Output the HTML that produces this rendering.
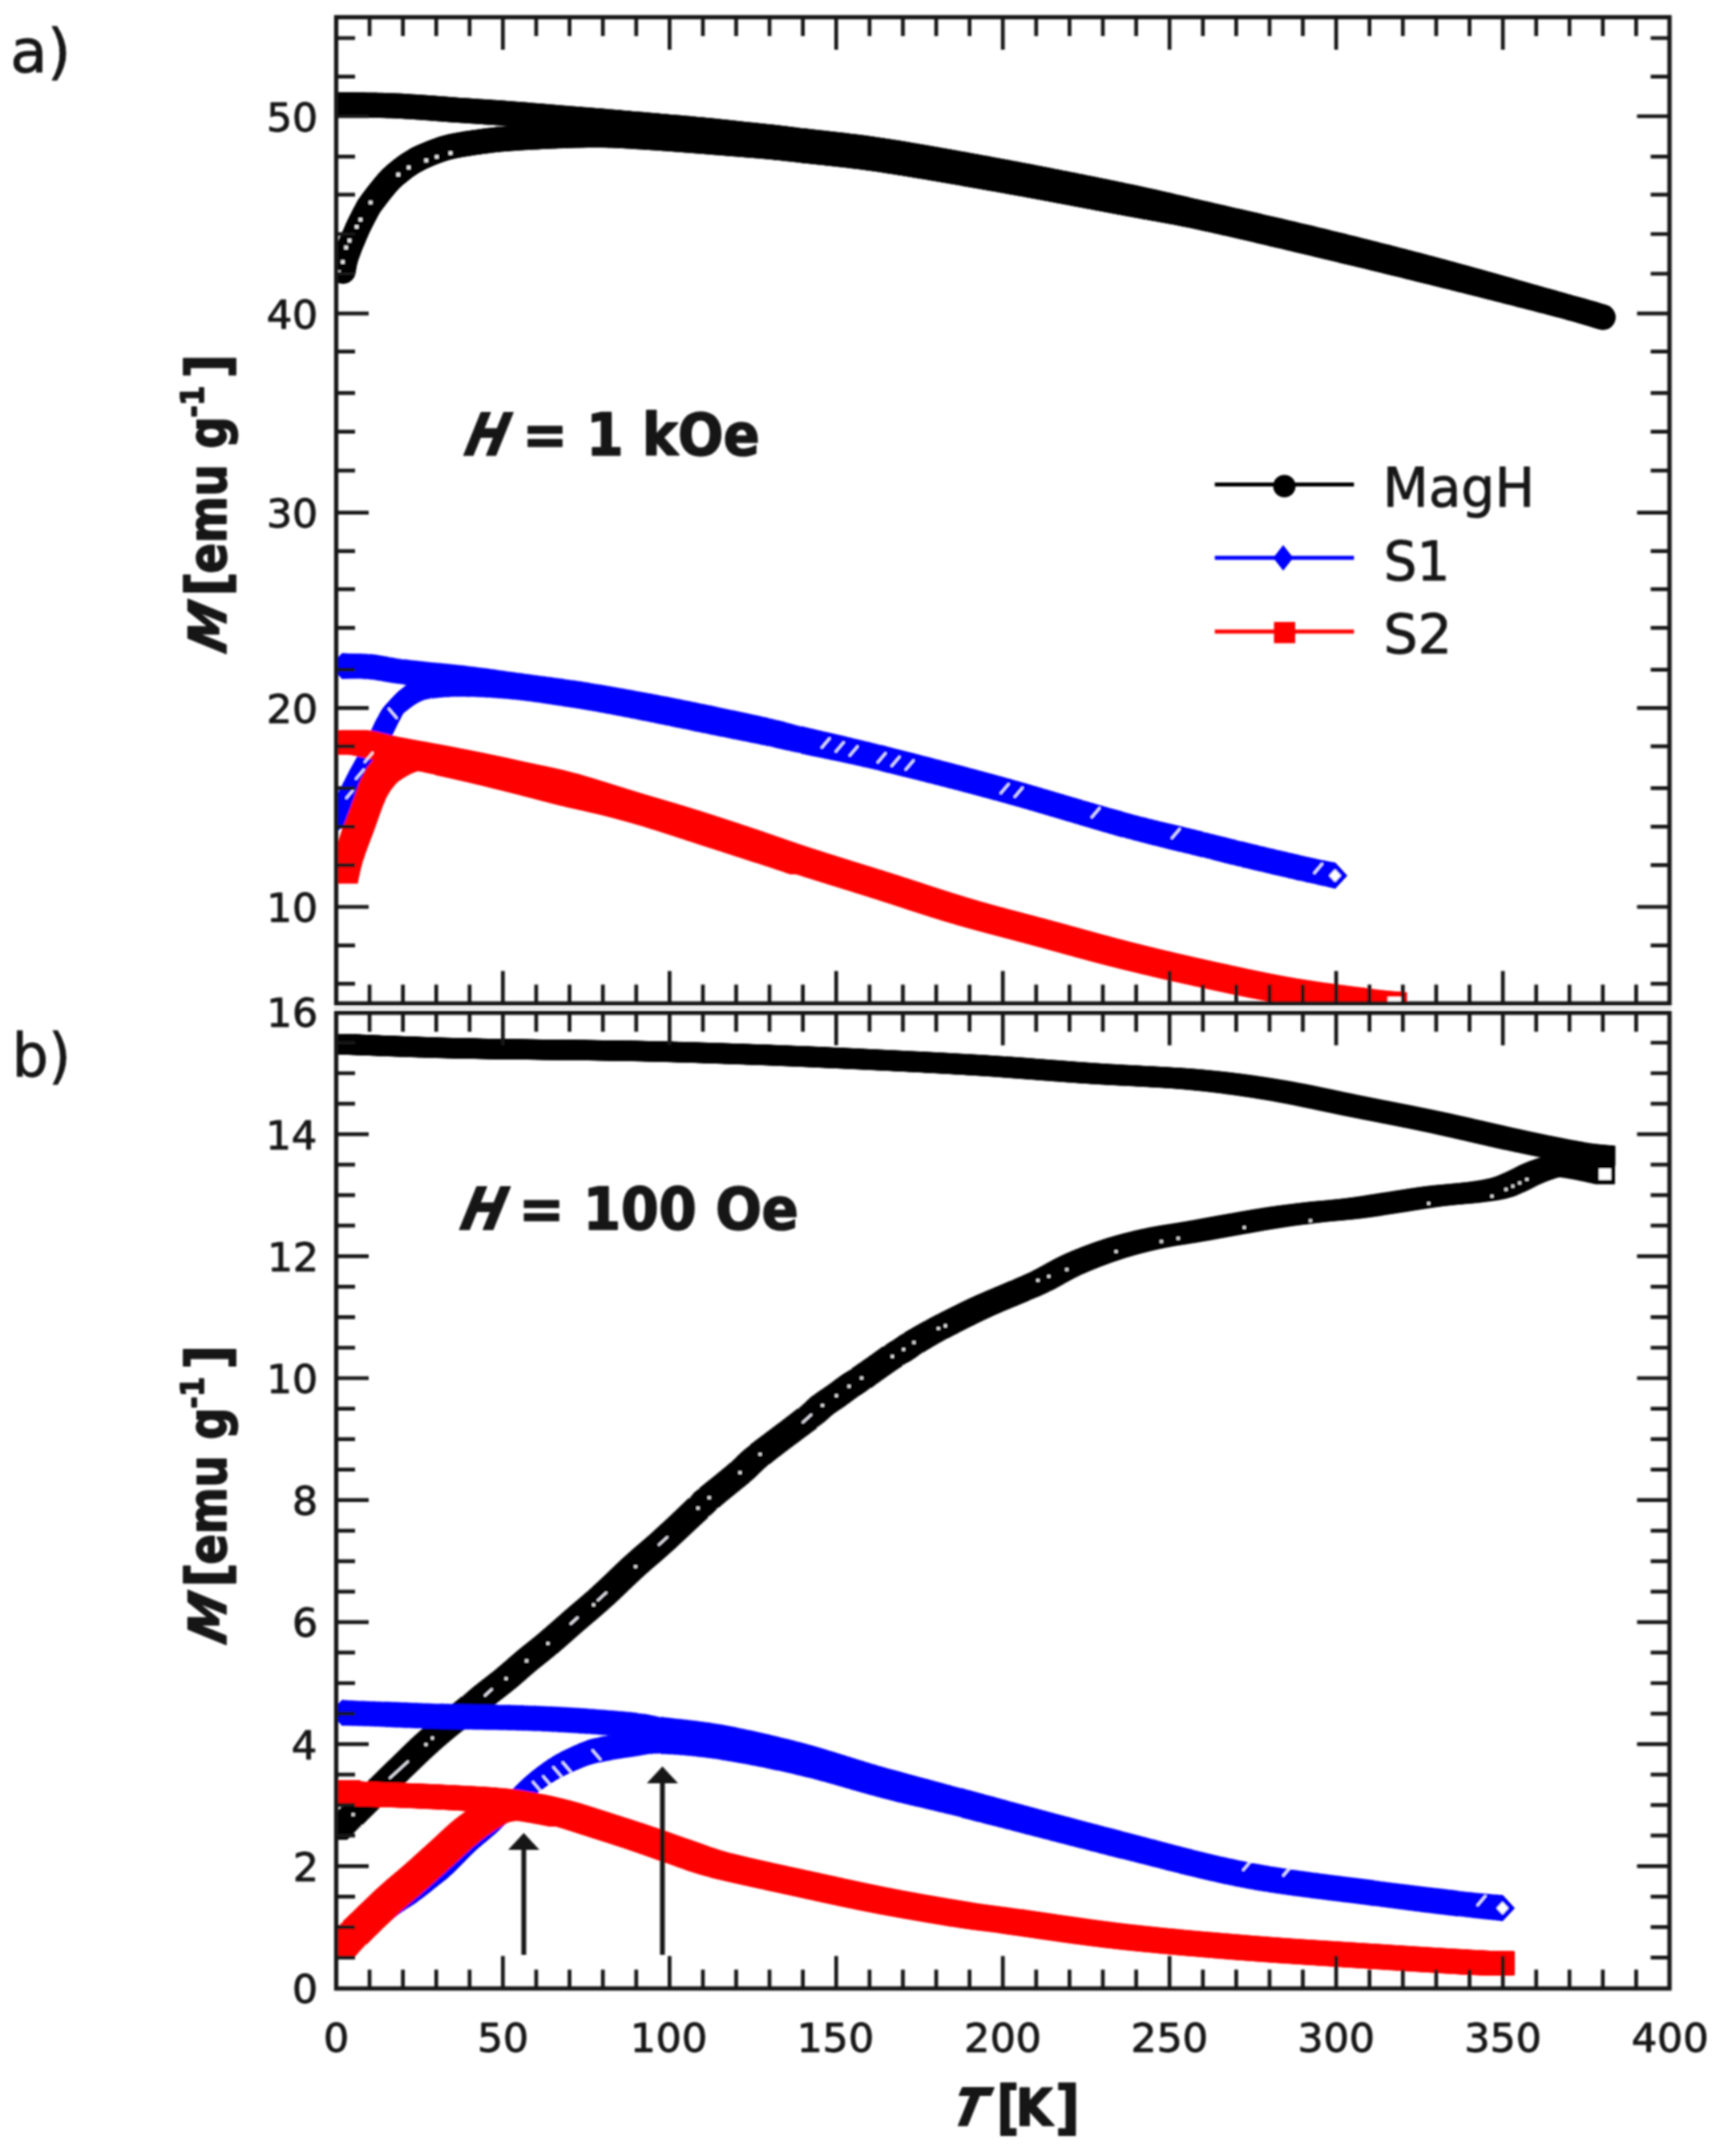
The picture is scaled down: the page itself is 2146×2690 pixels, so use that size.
<!DOCTYPE html><html><head><meta charset="utf-8"><title>M(T)</title><style>html,body{margin:0;padding:0;background:#fff}svg{display:block}</style></head><body><svg width="2146" height="2690" viewBox="0 0 2146 2690">
<defs>
<marker id="mc" markerUnits="userSpaceOnUse" markerWidth="40" markerHeight="40" refX="20" refY="20" overflow="visible"><circle cx="20" cy="20" r="15.7" fill="#000"/></marker>
<marker id="md" markerUnits="userSpaceOnUse" markerWidth="40" markerHeight="40" refX="20" refY="20" overflow="visible"><path d="M20 3.6 L35.2 20 L20 36.4 L4.8 20Z" fill="#0000ff"/></marker>
<marker id="ms" markerUnits="userSpaceOnUse" markerWidth="40" markerHeight="40" refX="20" refY="20" overflow="visible"><rect x="5" y="5" width="30" height="30" fill="#ff0000"/></marker>
<marker id="msb" markerUnits="userSpaceOnUse" markerWidth="40" markerHeight="40" refX="20" refY="20" overflow="visible"><rect x="7.5" y="7.5" width="25" height="25" fill="#000"/></marker>
<filter id="soft" filterUnits="userSpaceOnUse" x="0" y="0" width="2146" height="2690"><feGaussianBlur stdDeviation="0.9"/></filter>
<clipPath id="ca"><rect x="418.5" y="21.5" width="1664.5" height="1230.5"/></clipPath>
<clipPath id="cb"><rect x="418.5" y="1263.7" width="1664.5" height="1217.3"/></clipPath>
</defs>
<rect width="2146" height="2690" fill="#fff"/>
<g filter="url(#soft)">
<g clip-path="url(#ca)">
<polyline points="421.0,130.6 422.2,130.6 423.5,130.6 424.9,130.7 426.4,130.7 428.0,130.7 429.8,130.7 431.6,130.8 433.5,130.8 435.5,130.8 437.6,130.8 439.8,130.8 442.0,130.9 444.3,130.9 446.6,130.9 449.0,131.0 451.5,131.0 453.9,131.0 456.4,131.1 459.0,131.1 461.5,131.2 464.1,131.2 466.7,131.3 469.2,131.3 471.8,131.4 474.4,131.4 477.0,131.5 479.5,131.6 482.0,131.7 484.5,131.7 486.9,131.8 489.3,131.9 491.7,132.0 494.0,132.1 496.2,132.2 498.3,132.3 500.5,132.4 502.7,132.5 504.9,132.7 507.1,132.8 509.3,132.9 511.5,133.1 513.8,133.2 516.0,133.4 518.3,133.5 520.5,133.7 522.8,133.8 525.0,134.0 527.3,134.1 529.6,134.3 531.8,134.5 534.1,134.6 536.3,134.8 538.6,135.0 540.8,135.2 543.0,135.3 545.3,135.5 547.5,135.7 549.7,135.8 551.9,136.0 554.1,136.2 556.2,136.3 558.4,136.5 560.5,136.7 562.7,136.8 564.8,137.0 566.9,137.1 568.9,137.3 571.0,137.4 573.4,137.6 575.7,137.7 578.1,137.9 580.4,138.0 582.7,138.2 585.0,138.3 587.3,138.5 589.6,138.6 591.8,138.8 594.1,138.9 596.3,139.1 598.5,139.2 600.7,139.4 602.9,139.5 605.1,139.7 607.3,139.8 609.4,140.0 611.6,140.1 613.7,140.3 615.9,140.4 618.0,140.5 620.2,140.7 622.3,140.8 624.4,141.0 626.5,141.1 628.6,141.3 630.7,141.4 632.8,141.6 634.9,141.7 637.0,141.9 639.3,142.1 641.6,142.3 643.9,142.4 646.2,142.6 648.5,142.8 650.7,143.0 653.0,143.2 655.2,143.3 657.5,143.5 659.7,143.7 661.9,143.9 664.1,144.1 666.3,144.3 668.5,144.4 670.7,144.6 672.9,144.8 675.0,145.0 677.2,145.2 679.4,145.4 681.5,145.5 683.7,145.7 685.8,145.9 688.0,146.1 690.1,146.3 692.2,146.4 694.4,146.6 696.5,146.8 698.8,147.0 701.1,147.2 703.4,147.4 705.7,147.5 708.0,147.7 710.2,147.9 712.5,148.1 714.8,148.3 717.0,148.5 719.3,148.6 721.5,148.8 723.8,149.0 726.0,149.2 728.2,149.4 730.5,149.5 732.7,149.7 734.9,149.9 737.0,150.1 739.2,150.2 741.4,150.4 743.5,150.6 745.7,150.8 747.8,151.0 749.9,151.1 752.0,151.3 754.4,151.5 756.7,151.7 759.0,151.9 761.3,152.1 763.6,152.3 765.8,152.5 768.1,152.7 770.3,152.8 772.5,153.0 774.7,153.2 776.9,153.4 779.1,153.6 781.3,153.8 783.5,154.0 785.6,154.2 787.8,154.4 790.0,154.6 792.2,154.7 794.4,154.9 796.6,155.1 798.8,155.3 801.0,155.5 803.2,155.7 805.5,155.9 807.7,156.1 810.0,156.3 812.2,156.5 814.5,156.6 816.7,156.8 819.0,157.0 821.2,157.2 823.5,157.4 825.8,157.6 828.0,157.8 830.2,158.0 832.5,158.2 834.7,158.4 836.9,158.6 839.1,158.7 841.3,158.9 843.5,159.1 845.7,159.3 847.9,159.5 850.0,159.7 852.3,159.9 854.7,160.1 857.0,160.3 859.4,160.5 861.7,160.8 864.0,161.0 866.3,161.2 868.6,161.4 870.9,161.6 873.1,161.8 875.4,162.0 877.6,162.2 879.9,162.4 882.1,162.6 884.3,162.8 886.4,163.1 888.6,163.3 890.8,163.5 892.9,163.7 895.0,163.9 897.5,164.1 899.9,164.4 902.3,164.6 904.6,164.9 906.9,165.1 909.2,165.4 911.5,165.6 913.8,165.9 916.1,166.1 918.3,166.4 920.6,166.6 922.8,166.9 925.0,167.1 927.3,167.4 929.5,167.6 931.7,167.9 934.0,168.1 936.3,168.3 938.6,168.6 940.9,168.8 943.2,169.1 945.6,169.3 947.9,169.6 950.2,169.8 952.5,170.1 954.8,170.3 957.1,170.6 959.4,170.8 961.6,171.0 963.8,171.3 965.9,171.5 968.0,171.8 970.0,172.0 972.0,172.2 974.5,172.5 976.4,172.7 978.0,172.9 979.4,173.1 980.7,173.2 982.1,173.4 983.7,173.6 985.7,173.8 988.2,174.1 991.3,174.5 995.2,175.0 1000.0,175.6 1001.4,175.8 1002.9,176.0 1004.5,176.1 1006.1,176.3 1007.7,176.5 1009.3,176.7 1011.1,176.9 1012.8,177.1 1014.6,177.3 1016.4,177.5 1018.3,177.7 1020.2,177.9 1022.1,178.1 1024.1,178.3 1026.1,178.5 1028.2,178.7 1030.3,178.9 1032.4,179.2 1034.6,179.4 1036.8,179.7 1039.0,179.9 1041.2,180.1 1043.5,180.4 1045.8,180.7 1048.2,180.9 1050.5,181.2 1052.9,181.5 1055.4,181.8 1057.8,182.1 1060.3,182.4 1062.8,182.7 1065.3,183.0 1067.9,183.3 1070.4,183.6 1073.0,184.0 1075.6,184.3 1078.3,184.7 1080.9,185.0 1083.6,185.4 1086.3,185.8 1089.0,186.2 1091.7,186.6 1094.5,187.0 1097.2,187.4 1100.0,187.8 1101.8,188.1 1103.7,188.4 1105.5,188.7 1107.4,189.0 1109.3,189.3 1111.2,189.6 1113.2,189.9 1115.1,190.2 1117.1,190.5 1119.1,190.8 1121.1,191.2 1123.1,191.5 1125.2,191.8 1127.2,192.2 1129.3,192.5 1131.4,192.8 1133.5,193.2 1135.6,193.6 1137.7,193.9 1139.8,194.3 1142.0,194.6 1144.1,195.0 1146.3,195.4 1148.5,195.7 1150.7,196.1 1152.9,196.5 1155.1,196.9 1157.3,197.3 1159.5,197.6 1161.7,198.0 1164.0,198.4 1166.2,198.8 1168.5,199.2 1170.7,199.6 1173.0,200.0 1175.3,200.4 1177.6,200.8 1179.8,201.2 1182.1,201.6 1184.4,202.0 1186.7,202.4 1189.0,202.8 1191.3,203.3 1193.6,203.7 1195.9,204.1 1198.1,204.5 1200.4,204.9 1202.7,205.3 1205.0,205.7 1207.3,206.2 1209.6,206.6 1211.9,207.0 1214.2,207.4 1216.5,207.8 1218.7,208.2 1221.0,208.7 1223.3,209.1 1225.6,209.5 1227.8,209.9 1230.1,210.3 1232.3,210.7 1234.6,211.1 1236.8,211.6 1239.0,212.0 1241.2,212.4 1243.4,212.8 1245.6,213.2 1247.8,213.6 1250.0,214.0 1252.2,214.4 1254.4,214.8 1256.6,215.2 1258.8,215.6 1261.0,216.1 1263.2,216.5 1265.4,216.9 1267.7,217.3 1269.9,217.7 1272.2,218.2 1274.4,218.6 1276.7,219.0 1279.0,219.5 1281.3,219.9 1283.5,220.3 1285.8,220.8 1288.1,221.2 1290.4,221.7 1292.7,222.1 1295.0,222.5 1297.3,223.0 1299.6,223.4 1301.9,223.9 1304.1,224.3 1306.4,224.8 1308.7,225.2 1311.0,225.7 1313.3,226.1 1315.6,226.6 1317.9,227.0 1320.2,227.5 1322.4,227.9 1324.7,228.4 1327.0,228.8 1329.3,229.3 1331.5,229.7 1333.8,230.1 1336.0,230.6 1338.3,231.0 1340.5,231.5 1342.7,231.9 1344.9,232.4 1347.1,232.8 1349.3,233.3 1351.5,233.7 1353.7,234.1 1355.9,234.6 1358.0,235.0 1360.2,235.4 1362.3,235.9 1364.4,236.3 1366.5,236.7 1368.6,237.2 1370.7,237.6 1372.8,238.0 1374.8,238.4 1376.9,238.8 1378.9,239.2 1380.9,239.7 1382.9,240.1 1384.9,240.5 1386.8,240.9 1388.8,241.3 1390.7,241.7 1392.6,242.1 1394.5,242.5 1396.3,242.8 1398.2,243.2 1400.0,243.6 1402.7,244.2 1405.3,244.7 1407.8,245.2 1410.3,245.8 1412.8,246.3 1415.1,246.8 1417.5,247.3 1419.7,247.8 1422.0,248.3 1424.1,248.7 1426.3,249.2 1428.4,249.7 1430.5,250.1 1432.5,250.6 1434.5,251.0 1436.5,251.5 1438.5,251.9 1440.4,252.3 1442.4,252.8 1444.3,253.2 1446.2,253.6 1448.1,254.1 1450.0,254.5 1451.9,255.0 1453.8,255.4 1455.7,255.8 1457.6,256.3 1459.6,256.7 1461.5,257.2 1463.5,257.6 1465.5,258.1 1467.5,258.6 1469.5,259.0 1471.6,259.5 1473.7,260.0 1475.9,260.5 1478.0,261.0 1480.3,261.5 1482.5,262.1 1484.9,262.6 1487.2,263.2 1489.7,263.7 1492.2,264.3 1494.7,264.9 1497.3,265.5 1500.0,266.1 1501.8,266.5 1503.6,266.9 1505.4,267.3 1507.3,267.8 1509.2,268.2 1511.1,268.6 1513.0,269.1 1514.9,269.5 1516.8,270.0 1518.8,270.4 1520.8,270.9 1522.8,271.3 1524.8,271.8 1526.8,272.2 1528.8,272.7 1530.9,273.2 1532.9,273.6 1535.0,274.1 1537.1,274.6 1539.2,275.1 1541.3,275.6 1543.4,276.0 1545.6,276.5 1547.7,277.0 1549.9,277.5 1552.0,278.0 1554.2,278.5 1556.4,279.0 1558.6,279.5 1560.8,280.0 1563.0,280.5 1565.2,281.0 1567.4,281.5 1569.6,282.0 1571.9,282.6 1574.1,283.1 1576.3,283.6 1578.6,284.1 1580.8,284.6 1583.1,285.2 1585.3,285.7 1587.6,286.2 1589.9,286.7 1592.1,287.3 1594.4,287.8 1596.6,288.3 1598.9,288.8 1601.2,289.4 1603.4,289.9 1605.7,290.4 1607.9,290.9 1610.2,291.5 1612.5,292.0 1614.7,292.5 1617.0,293.1 1619.2,293.6 1621.4,294.1 1623.7,294.7 1625.9,295.2 1628.1,295.7 1630.4,296.3 1632.6,296.8 1634.8,297.3 1637.0,297.8 1639.2,298.4 1641.4,298.9 1643.5,299.4 1645.7,300.0 1647.9,300.5 1650.0,301.0 1652.1,301.5 1654.3,302.0 1656.4,302.6 1658.6,303.1 1660.7,303.6 1662.9,304.1 1665.0,304.7 1667.1,305.2 1669.3,305.7 1671.4,306.3 1673.6,306.8 1675.7,307.3 1677.9,307.9 1680.0,308.4 1682.1,308.9 1684.3,309.4 1686.4,310.0 1688.6,310.5 1690.7,311.0 1692.9,311.6 1695.0,312.1 1697.1,312.7 1699.3,313.2 1701.4,313.7 1703.6,314.3 1705.7,314.8 1707.9,315.4 1710.0,315.9 1712.1,316.4 1714.3,317.0 1716.4,317.5 1718.6,318.1 1720.7,318.6 1722.9,319.2 1725.0,319.7 1727.1,320.2 1729.3,320.8 1731.4,321.3 1733.6,321.9 1735.7,322.4 1737.9,323.0 1740.0,323.5 1742.1,324.1 1744.3,324.6 1746.4,325.2 1748.6,325.8 1750.7,326.3 1752.9,326.9 1755.0,327.4 1757.1,328.0 1759.3,328.5 1761.4,329.1 1763.6,329.7 1765.7,330.2 1767.9,330.8 1770.0,331.3 1772.1,331.9 1774.3,332.5 1776.4,333.0 1778.6,333.6 1780.7,334.2 1782.9,334.7 1785.0,335.3 1787.1,335.9 1789.3,336.4 1791.4,337.0 1793.6,337.6 1795.7,338.2 1797.9,338.7 1800.0,339.3 1802.2,339.9 1804.3,340.5 1806.5,341.1 1808.7,341.7 1811.0,342.3 1813.2,342.9 1815.5,343.5 1817.7,344.1 1820.0,344.7 1822.3,345.4 1824.6,346.0 1826.9,346.6 1829.3,347.3 1831.6,347.9 1833.9,348.6 1836.3,349.2 1838.7,349.9 1841.0,350.5 1843.4,351.2 1845.8,351.9 1848.2,352.5 1850.5,353.2 1852.9,353.9 1855.3,354.5 1857.7,355.2 1860.1,355.9 1862.4,356.5 1864.8,357.2 1867.2,357.9 1869.5,358.5 1871.9,359.2 1874.2,359.9 1876.6,360.5 1878.9,361.2 1881.2,361.8 1883.6,362.5 1885.9,363.2 1888.2,363.8 1890.4,364.5 1892.7,365.1 1895.0,365.7 1897.2,366.4 1899.4,367.0 1901.6,367.6 1903.8,368.3 1906.0,368.9 1908.1,369.5 1910.2,370.1 1912.3,370.7 1914.4,371.3 1916.5,371.9 1918.5,372.4 1920.5,373.0 1922.5,373.6 1924.5,374.1 1926.4,374.7 1928.3,375.2 1930.2,375.8 1932.0,376.3 1933.8,376.8 1935.6,377.3 1937.3,377.8 1939.0,378.3 1940.7,378.8 1942.4,379.2 1944.0,379.7 1945.5,380.1 1947.1,380.6 1948.6,381.0 1950.0,381.4 1954.2,382.6 1958.1,383.7 1961.8,384.8 1965.3,385.7 1968.5,386.6 1971.4,387.5 1974.2,388.3 1976.8,389.0 1979.1,389.7 1981.4,390.4 1983.4,390.9 1985.3,391.5 1987.1,392.0 1988.7,392.5 1990.3,392.9 1991.7,393.4 1993.0,393.8 1994.3,394.1 1995.5,394.5 1996.7,394.8 1997.8,395.2 1998.9,395.5 2000.0,395.8" fill="none" stroke="none" marker-start="url(#mc)" marker-mid="url(#mc)" marker-end="url(#mc)"/>
<polyline points="428.0,338.5 428.3,336.9 428.7,334.6 429.2,332.0 429.7,329.1 430.3,326.2 431.0,323.6 431.6,321.5 432.3,319.3 433.0,317.2 433.8,315.1 434.5,313.0 435.3,310.9 436.0,309.0 437.0,306.5 437.9,304.1 438.9,301.9 439.9,299.5 441.0,297.0 441.8,295.1 442.6,293.1 443.5,291.1 444.4,289.0 445.3,286.8 446.3,284.6 447.4,282.3 448.3,280.4 449.3,278.3 450.4,276.2 451.5,274.0 452.6,271.9 453.7,269.7 454.7,267.7 455.8,265.8 456.7,264.0 457.8,261.9 458.7,260.2 459.5,258.8 460.4,257.2 461.8,255.3 463.7,252.6 464.7,251.3 465.8,249.8 467.1,248.1 468.4,246.4 469.8,244.6 471.3,242.7 472.8,240.7 474.3,238.8 475.9,236.8 477.4,234.9 479.0,233.0 480.5,231.2 481.9,229.5 483.3,227.9 484.6,226.5 486.4,224.5 488.2,222.7 490.0,221.0 491.7,219.5 493.3,218.0 495.0,216.6 496.6,215.3 498.1,214.1 499.7,212.8 501.2,211.6 503.3,209.9 505.4,208.4 507.3,207.0 509.3,205.7 511.2,204.4 513.1,203.2 515.1,202.0 517.0,200.9 518.8,199.8 520.6,198.8 522.4,197.8 524.4,196.8 526.6,195.8 529.1,194.7 530.9,193.9 532.8,193.1 534.8,192.2 536.9,191.4 539.1,190.5 541.3,189.6 543.6,188.7 545.9,187.9 548.1,187.1 550.4,186.3 552.6,185.6 554.7,185.0 556.7,184.4 558.6,183.9 560.4,183.4 562.3,183.0 564.3,182.5 566.4,182.1 568.7,181.6 571.1,181.2 573.9,180.7 577.0,180.2 578.7,179.9 580.6,179.6 582.4,179.3 584.4,179.0 586.4,178.7 588.5,178.4 590.6,178.0 592.7,177.7 595.0,177.4 597.2,177.1 599.5,176.7 601.9,176.4 604.3,176.1 606.7,175.8 609.2,175.5 611.7,175.2 614.2,174.9 616.7,174.6 619.3,174.3 621.9,174.0 624.5,173.8 626.5,173.6 628.5,173.4 630.6,173.3 632.6,173.1 634.8,172.9 636.9,172.8 639.1,172.6 641.3,172.5 643.5,172.3 645.7,172.2 648.0,172.0 650.2,171.9 652.5,171.7 654.8,171.6 657.1,171.5 659.4,171.3 661.7,171.2 664.0,171.1 666.4,171.0 668.7,170.8 671.0,170.7 673.3,170.6 675.6,170.5 677.9,170.4 680.2,170.3 682.4,170.2 684.7,170.1 686.9,170.0 689.1,169.9 691.4,169.8 693.6,169.7 695.9,169.6 698.1,169.5 700.4,169.5 702.6,169.4 704.9,169.3 707.2,169.2 709.4,169.1 711.7,169.1 714.0,169.0 716.2,168.9 718.5,168.9 720.7,168.8 723.0,168.7 725.2,168.7 727.4,168.7 729.6,168.6 731.8,168.6 734.0,168.5 736.2,168.5 738.3,168.5 740.5,168.5 742.6,168.5 744.7,168.5 746.7,168.5 748.8,168.5 751.3,168.5 753.7,168.6 756.0,168.6 758.3,168.7 760.6,168.7 762.9,168.8 765.1,168.9 767.3,169.0 769.5,169.1 771.6,169.2 773.8,169.3 776.0,169.4 778.1,169.5 780.3,169.6 782.5,169.8 784.7,169.9 786.9,170.0 789.2,170.2 791.5,170.3 793.8,170.5 796.2,170.6 798.6,170.8 801.1,170.9 803.2,171.0 805.3,171.2 807.4,171.3 809.6,171.4 811.8,171.6 814.1,171.7 816.3,171.9 818.6,172.0 820.9,172.2 823.2,172.4 825.5,172.5 827.8,172.7 830.2,172.9 832.5,173.0 834.8,173.2 837.2,173.4 839.5,173.6 841.8,173.7 844.1,173.9 846.4,174.1 848.7,174.2 850.9,174.4 853.2,174.6 855.4,174.8 857.6,174.9 859.7,175.1 861.8,175.2 863.9,175.4 866.4,175.6 868.9,175.8 871.3,176.0 873.7,176.2 876.2,176.3 878.6,176.5 880.9,176.7 883.3,176.9 885.6,177.1 887.9,177.3 890.2,177.5 892.5,177.7 894.8,177.8 897.0,178.0 899.2,178.2 901.4,178.4 903.6,178.6 905.7,178.7 907.9,178.9 910.0,179.1 912.1,179.3 914.1,179.4 916.2,179.6 918.6,179.8 921.0,180.0 923.4,180.2 925.7,180.3 927.9,180.5 930.2,180.7 932.4,180.9 934.5,181.0 936.7,181.2 938.8,181.4 940.9,181.5 943.0,181.7 945.1,181.9 947.3,182.0 949.4,182.2 951.5,182.4 953.6,182.6 955.8,182.8 958.0,183.0 960.1,183.2 962.1,183.4 964.0,183.6 965.8,183.7 967.6,183.9 969.3,184.1 971.0,184.3 972.7,184.4 974.5,184.6 976.3,184.8 978.2,185.0 980.3,185.3 982.4,185.5 984.8,185.8 987.3,186.0 990.1,186.4 993.1,186.7 996.4,187.1 1000.0,187.5 1001.6,187.7 1003.2,187.9 1004.9,188.1 1006.6,188.2 1008.3,188.4 1010.0,188.6 1011.8,188.8 1013.6,189.0 1015.5,189.2 1017.4,189.4 1019.3,189.6 1021.2,189.8 1023.2,190.0 1025.2,190.2 1027.2,190.4 1029.2,190.6 1031.3,190.9 1033.4,191.1 1035.6,191.3 1037.7,191.5 1039.9,191.8 1042.1,192.0 1044.4,192.3 1046.6,192.5 1048.9,192.8 1051.3,193.0 1053.6,193.3 1056.0,193.6 1058.4,193.9 1060.8,194.2 1063.3,194.5 1065.7,194.8 1068.2,195.1 1070.8,195.4 1073.3,195.7 1075.9,196.0 1078.5,196.4 1081.1,196.7 1083.7,197.1 1086.4,197.4 1089.1,197.8 1091.8,198.2 1094.5,198.6 1097.2,199.0 1100.0,199.4 1101.8,199.7 1103.7,200.0 1105.5,200.2 1107.4,200.5 1109.3,200.8 1111.2,201.1 1113.2,201.4 1115.1,201.7 1117.1,202.0 1119.1,202.3 1121.1,202.7 1123.1,203.0 1125.2,203.3 1127.2,203.6 1129.3,204.0 1131.4,204.3 1133.5,204.7 1135.6,205.0 1137.7,205.3 1139.8,205.7 1142.0,206.1 1144.1,206.4 1146.3,206.8 1148.5,207.1 1150.7,207.5 1152.9,207.9 1155.1,208.2 1157.3,208.6 1159.5,209.0 1161.7,209.4 1164.0,209.8 1166.2,210.1 1168.5,210.5 1170.7,210.9 1173.0,211.3 1175.3,211.7 1177.6,212.1 1179.8,212.5 1182.1,212.9 1184.4,213.3 1186.7,213.7 1189.0,214.1 1191.3,214.4 1193.6,214.8 1195.9,215.2 1198.1,215.6 1200.4,216.0 1202.7,216.5 1205.0,216.9 1207.3,217.3 1209.6,217.7 1211.9,218.1 1214.2,218.5 1216.5,218.9 1218.7,219.3 1221.0,219.7 1223.3,220.1 1225.6,220.5 1227.8,220.9 1230.1,221.3 1232.3,221.7 1234.6,222.1 1236.8,222.5 1239.0,222.8 1241.2,223.2 1243.4,223.6 1245.6,224.0 1247.8,224.4 1250.0,224.8 1252.2,225.2 1254.4,225.6 1256.6,226.0 1258.8,226.4 1261.0,226.8 1263.2,227.2 1265.4,227.6 1267.7,228.0 1269.9,228.4 1272.2,228.8 1274.4,229.2 1276.7,229.6 1279.0,230.0 1281.3,230.4 1283.5,230.9 1285.8,231.3 1288.1,231.7 1290.4,232.1 1292.7,232.5 1295.0,233.0 1297.3,233.4 1299.6,233.8 1301.9,234.2 1304.1,234.7 1306.4,235.1 1308.7,235.5 1311.0,236.0 1313.3,236.4 1315.6,236.8 1317.9,237.2 1320.2,237.7 1322.4,238.1 1324.7,238.5 1327.0,238.9 1329.3,239.4 1331.5,239.8 1333.8,240.2 1336.0,240.6 1338.3,241.1 1340.5,241.5 1342.7,241.9 1344.9,242.3 1347.1,242.7 1349.3,243.1 1351.5,243.6 1353.7,244.0 1355.9,244.4 1358.0,244.8 1360.2,245.2 1362.3,245.6 1364.4,246.0 1366.5,246.4 1368.6,246.8 1370.7,247.2 1372.8,247.6 1374.8,248.0 1376.9,248.3 1378.9,248.7 1380.9,249.1 1382.9,249.5 1384.9,249.9 1386.8,250.2 1388.8,250.6 1390.7,250.9 1392.6,251.3 1394.5,251.7 1396.3,252.0 1398.2,252.4 1400.0,252.7 1402.7,253.2 1405.3,253.7 1407.8,254.2 1410.3,254.6 1412.8,255.1 1415.1,255.5 1417.5,255.9 1419.7,256.3 1422.0,256.7 1424.1,257.1 1426.3,257.5 1428.4,257.9 1430.5,258.3 1432.5,258.6 1434.5,259.0 1436.5,259.3 1438.5,259.7 1440.4,260.0 1442.4,260.4 1444.3,260.7 1446.2,261.1 1448.1,261.4 1450.0,261.8 1451.9,262.1 1453.8,262.5 1455.7,262.8 1457.6,263.2 1459.6,263.5 1461.5,263.9 1463.5,264.3 1465.5,264.6 1467.5,265.0 1469.5,265.4 1471.6,265.8 1473.7,266.2 1475.9,266.7 1478.0,267.1 1480.3,267.6 1482.5,268.0 1484.9,268.5 1487.2,269.0 1489.7,269.5 1492.2,270.0 1494.7,270.6 1497.3,271.1 1500.0,271.7 1501.8,272.1 1503.6,272.5 1505.4,272.9 1507.3,273.3 1509.2,273.7 1511.1,274.1 1513.0,274.5 1514.9,275.0 1516.8,275.4 1518.8,275.8 1520.8,276.3 1522.8,276.7 1524.8,277.2 1526.8,277.6 1528.8,278.1 1530.9,278.6 1532.9,279.0 1535.0,279.5 1537.1,280.0 1539.2,280.5 1541.3,280.9 1543.4,281.4 1545.6,281.9 1547.7,282.4 1549.9,282.9 1552.0,283.4 1554.2,283.9 1556.4,284.4 1558.6,284.9 1560.8,285.5 1563.0,286.0 1565.2,286.5 1567.4,287.0 1569.6,287.5 1571.9,288.1 1574.1,288.6 1576.3,289.1 1578.6,289.6 1580.8,290.2 1583.1,290.7 1585.3,291.2 1587.6,291.8 1589.9,292.3 1592.1,292.8 1594.4,293.4 1596.6,293.9 1598.9,294.4 1601.2,295.0 1603.4,295.5 1605.7,296.0 1607.9,296.6 1610.2,297.1 1612.5,297.7 1614.7,298.2 1617.0,298.7 1619.2,299.3 1621.4,299.8 1623.7,300.3 1625.9,300.9 1628.1,301.4 1630.4,301.9 1632.6,302.4 1634.8,303.0 1637.0,303.5 1639.2,304.0 1641.4,304.5 1643.5,305.1 1645.7,305.6 1647.9,306.1 1650.0,306.6 1652.1,307.1 1654.3,307.6 1656.4,308.1 1658.6,308.6 1660.7,309.2 1662.9,309.7 1665.0,310.2 1667.1,310.7 1669.3,311.2 1671.4,311.7 1673.6,312.2 1675.7,312.8 1677.9,313.3 1680.0,313.8 1682.1,314.3 1684.3,314.8 1686.4,315.3 1688.6,315.9 1690.7,316.4 1692.9,316.9 1695.0,317.4 1697.1,317.9 1699.3,318.4 1701.4,319.0 1703.6,319.5 1705.7,320.0 1707.9,320.5 1710.0,321.0 1712.1,321.6 1714.3,322.1 1716.4,322.6 1718.6,323.1 1720.7,323.6 1722.9,324.2 1725.0,324.7 1727.1,325.2 1729.3,325.7 1731.4,326.3 1733.6,326.8 1735.7,327.3 1737.9,327.8 1740.0,328.4 1742.1,328.9 1744.3,329.4 1746.4,329.9 1748.6,330.5 1750.7,331.0 1752.9,331.5 1755.0,332.0 1757.1,332.6 1759.3,333.1 1761.4,333.6 1763.6,334.2 1765.7,334.7 1767.9,335.2 1770.0,335.8 1772.1,336.3 1774.3,336.8 1776.4,337.3 1778.6,337.9 1780.7,338.4 1782.9,338.9 1785.0,339.5 1787.1,340.0 1789.3,340.5 1791.4,341.1 1793.6,341.6 1795.7,342.1 1797.9,342.7 1800.0,343.2 1802.2,343.7 1804.3,344.3 1806.5,344.8 1808.7,345.4 1811.0,345.9 1813.2,346.5 1815.5,347.1 1817.7,347.6 1820.0,348.2 1822.3,348.8 1824.6,349.4 1826.9,349.9 1829.3,350.5 1831.6,351.1 1833.9,351.7 1836.3,352.3 1838.7,352.9 1841.0,353.5 1843.4,354.1 1845.8,354.7 1848.2,355.3 1850.5,355.9 1852.9,356.5 1855.3,357.1 1857.7,357.7 1860.1,358.3 1862.4,358.9 1864.8,359.5 1867.2,360.1 1869.5,360.7 1871.9,361.3 1874.2,361.9 1876.6,362.5 1878.9,363.1 1881.2,363.7 1883.6,364.3 1885.9,364.9 1888.2,365.4 1890.4,366.0 1892.7,366.6 1895.0,367.2 1897.2,367.8 1899.4,368.3 1901.6,368.9 1903.8,369.4 1906.0,370.0 1908.1,370.6 1910.2,371.1 1912.3,371.6 1914.4,372.2 1916.5,372.7 1918.5,373.2 1920.5,373.7 1922.5,374.3 1924.5,374.8 1926.4,375.3 1928.3,375.7 1930.2,376.2 1932.0,376.7 1933.8,377.2 1935.6,377.6 1937.3,378.1 1939.0,378.5 1940.7,379.0 1942.4,379.4 1944.0,379.8 1945.5,380.2 1947.1,380.6 1948.6,381.0 1950.0,381.4 1954.2,382.5 1958.1,383.6 1961.8,384.6 1965.3,385.5 1968.5,386.4 1971.4,387.2 1974.2,388.0 1976.8,388.7 1979.1,389.4 1981.4,390.1 1983.4,390.7 1985.3,391.3 1987.1,391.8 1988.7,392.3 1990.3,392.8 1991.7,393.2 1993.0,393.7 1994.3,394.1 1995.5,394.4 1996.7,394.8 1997.8,395.2 1998.9,395.5 2000.0,395.8" fill="none" stroke="none" marker-start="url(#mc)" marker-mid="url(#mc)" marker-end="url(#mc)"/>
<polyline points="421.0,1021.0 421.5,1020.0 422.2,1018.6 423.3,1016.4 425.0,1013.0 425.7,1011.6 426.5,1010.0 427.4,1008.1 428.4,1006.2 429.4,1004.1 430.5,1002.0 431.6,999.7 432.7,997.5 433.8,995.3 434.9,993.1 436.0,991.0 437.0,989.0 437.9,987.1 439.0,984.8 440.1,982.6 441.2,980.4 442.2,978.3 443.2,976.2 444.3,974.2 445.3,972.2 446.3,970.2 447.3,968.2 448.3,966.2 449.4,964.0 450.5,962.0 451.6,960.0 452.7,958.0 453.8,956.0 455.0,954.0 456.2,951.8 457.4,949.5 458.8,947.0 459.7,945.3 460.7,943.4 461.8,941.5 462.9,939.5 464.0,937.5 465.1,935.4 466.3,933.3 467.4,931.1 468.5,929.0 469.7,926.9 470.8,924.9 471.8,922.9 472.8,921.0 473.8,919.1 475.0,916.8 476.1,914.5 477.2,912.3 478.3,910.1 479.3,907.9 480.3,905.8 481.3,903.8 482.2,901.8 483.2,899.9 484.1,898.1 485.0,896.4 486.4,893.9 487.6,891.6 488.8,889.6 489.9,887.6 491.1,885.8 492.4,884.1 493.7,882.4 495.3,880.6 497.0,878.9 498.7,877.4 500.5,876.0 502.5,874.4 504.7,872.7 506.4,871.4 508.1,870.0 510.0,868.5 512.0,867.0 514.0,865.6 516.1,864.1 518.1,862.8 520.1,861.5 522.1,860.5 524.1,859.5 525.9,858.7 527.5,858.0 529.3,857.4 531.2,856.9 533.4,856.5 536.2,856.0 539.5,855.6 541.1,855.4 542.8,855.2 544.6,855.1 546.4,854.9 548.3,854.7 550.3,854.5 552.4,854.4 554.5,854.2 556.7,854.1 559.0,854.0 561.3,853.8 563.6,853.7 566.0,853.7 568.5,853.6 571.0,853.5 573.6,853.5 576.1,853.5 578.8,853.5 581.4,853.5 583.3,853.5 585.2,853.6 587.2,853.6 589.3,853.7 591.4,853.7 593.5,853.8 595.6,853.9 597.8,854.0 600.0,854.1 602.2,854.2 604.5,854.3 606.8,854.5 609.0,854.6 611.3,854.7 613.6,854.9 615.9,855.0 618.2,855.2 620.5,855.3 622.8,855.5 625.1,855.7 627.4,855.8 629.7,856.0 631.9,856.2 634.2,856.4 636.4,856.6 638.6,856.8 640.7,857.0 643.0,857.2 645.3,857.5 647.6,857.7 649.9,858.0 652.1,858.2 654.4,858.5 656.7,858.8 658.9,859.1 661.2,859.4 663.4,859.7 665.7,860.0 667.9,860.3 670.2,860.6 672.4,860.9 674.6,861.2 676.8,861.6 679.0,861.9 681.2,862.2 683.4,862.5 685.6,862.9 687.8,863.2 690.0,863.5 692.2,863.9 694.3,864.2 696.5,864.5 698.7,864.8 700.9,865.2 703.1,865.5 705.2,865.8 707.3,866.1 709.4,866.4 711.5,866.8 713.5,867.1 715.6,867.4 717.7,867.7 719.7,868.0 721.8,868.4 723.9,868.7 725.9,869.0 728.1,869.4 730.2,869.8 732.4,870.1 734.6,870.5 736.8,870.9 739.1,871.3 741.4,871.7 743.8,872.1 746.3,872.5 748.8,873.0 750.7,873.3 752.7,873.7 754.7,874.1 756.7,874.5 758.7,874.8 760.8,875.2 762.9,875.6 765.0,876.0 767.2,876.4 769.3,876.8 771.5,877.3 773.7,877.7 775.9,878.1 778.1,878.6 780.4,879.0 782.6,879.4 784.9,879.9 787.1,880.3 789.4,880.8 791.7,881.2 793.9,881.7 796.2,882.1 798.5,882.6 800.7,883.0 803.0,883.5 805.3,883.9 807.5,884.4 809.8,884.8 812.0,885.3 814.2,885.7 816.4,886.2 818.6,886.6 820.8,887.0 823.0,887.5 825.1,887.9 827.3,888.4 829.5,888.8 831.7,889.3 833.9,889.7 836.1,890.2 838.2,890.6 840.4,891.1 842.6,891.5 844.8,892.0 847.0,892.4 849.1,892.9 851.3,893.3 853.5,893.8 855.7,894.2 857.9,894.7 860.1,895.1 862.2,895.6 864.4,896.0 866.6,896.5 868.8,897.0 871.0,897.4 873.1,897.9 875.3,898.3 877.5,898.8 879.7,899.2 881.9,899.7 884.0,900.1 886.2,900.6 888.4,901.0 890.6,901.4 892.8,901.9 895.0,902.3 897.3,902.8 899.6,903.3 901.9,903.7 904.2,904.2 906.5,904.6 908.8,905.1 911.1,905.6 913.4,906.0 915.7,906.5 918.0,906.9 920.3,907.4 922.6,907.9 924.9,908.3 927.2,908.8 929.5,909.2 931.7,909.7 933.9,910.1 936.1,910.5 938.3,911.0 940.4,911.4 942.5,911.8 944.6,912.2 946.7,912.7 948.7,913.1 950.6,913.5 952.5,913.9 954.4,914.2 956.2,914.6 958.0,915.0 960.8,915.6 963.3,916.1 965.6,916.6 967.6,917.1 969.5,917.5 971.3,917.9 973.0,918.3 974.7,918.7 976.3,919.1 977.9,919.4 979.6,919.8 981.4,920.3 983.4,920.7 985.5,921.2 987.8,921.8 990.4,922.3 993.3,923.0 996.5,923.7 1000.0,924.5 1001.6,924.8 1003.1,925.2 1004.8,925.5 1006.4,925.9 1008.1,926.3 1009.8,926.6 1011.6,927.0 1013.3,927.4 1015.1,927.8 1017.0,928.1 1018.8,928.5 1020.7,928.9 1022.6,929.3 1024.6,929.7 1026.5,930.2 1028.5,930.6 1030.5,931.0 1032.6,931.4 1034.7,931.9 1036.8,932.3 1038.9,932.8 1041.1,933.2 1043.2,933.7 1045.5,934.2 1047.7,934.6 1050.0,935.1 1052.2,935.6 1054.5,936.1 1056.9,936.6 1059.2,937.1 1061.6,937.7 1064.0,938.2 1066.4,938.7 1068.9,939.3 1071.4,939.8 1073.9,940.4 1076.4,941.0 1078.9,941.5 1081.5,942.1 1084.1,942.7 1086.7,943.3 1089.3,943.9 1091.9,944.6 1094.6,945.2 1097.3,945.8 1100.0,946.5 1101.8,946.9 1103.6,947.4 1105.4,947.8 1107.3,948.3 1109.2,948.7 1111.1,949.2 1113.0,949.7 1114.9,950.1 1116.8,950.6 1118.8,951.1 1120.8,951.6 1122.8,952.1 1124.8,952.6 1126.8,953.1 1128.8,953.6 1130.9,954.1 1132.9,954.6 1135.0,955.1 1137.1,955.6 1139.2,956.2 1141.3,956.7 1143.4,957.2 1145.6,957.7 1147.7,958.3 1149.9,958.8 1152.0,959.4 1154.2,959.9 1156.4,960.5 1158.6,961.0 1160.8,961.6 1163.0,962.1 1165.2,962.7 1167.4,963.3 1169.6,963.8 1171.9,964.4 1174.1,965.0 1176.3,965.6 1178.6,966.1 1180.8,966.7 1183.1,967.3 1185.3,967.9 1187.6,968.4 1189.9,969.0 1192.1,969.6 1194.4,970.2 1196.6,970.8 1198.9,971.4 1201.2,972.0 1203.4,972.6 1205.7,973.2 1207.9,973.7 1210.2,974.3 1212.5,974.9 1214.7,975.5 1217.0,976.1 1219.2,976.7 1221.4,977.3 1223.7,977.9 1225.9,978.5 1228.1,979.1 1230.4,979.7 1232.6,980.3 1234.8,980.9 1237.0,981.5 1239.2,982.1 1241.4,982.6 1243.5,983.2 1245.7,983.8 1247.9,984.4 1250.0,985.0 1252.1,985.6 1254.3,986.2 1256.5,986.8 1258.6,987.4 1260.8,988.0 1263.0,988.6 1265.2,989.2 1267.4,989.9 1269.6,990.5 1271.9,991.1 1274.1,991.7 1276.3,992.4 1278.6,993.0 1280.8,993.7 1283.0,994.3 1285.3,995.0 1287.5,995.6 1289.8,996.3 1292.1,996.9 1294.3,997.6 1296.6,998.3 1298.8,998.9 1301.1,999.6 1303.4,1000.3 1305.6,1000.9 1307.9,1001.6 1310.1,1002.3 1312.4,1002.9 1314.7,1003.6 1316.9,1004.3 1319.2,1004.9 1321.4,1005.6 1323.7,1006.3 1325.9,1006.9 1328.1,1007.6 1330.4,1008.3 1332.6,1008.9 1334.8,1009.6 1337.0,1010.2 1339.2,1010.9 1341.4,1011.5 1343.6,1012.2 1345.8,1012.8 1348.0,1013.5 1350.1,1014.1 1352.3,1014.8 1354.4,1015.4 1356.6,1016.0 1358.7,1016.7 1360.8,1017.3 1362.9,1017.9 1365.0,1018.5 1367.1,1019.1 1369.1,1019.7 1371.2,1020.3 1373.2,1020.9 1375.2,1021.5 1377.2,1022.1 1379.2,1022.6 1381.2,1023.2 1383.2,1023.8 1385.1,1024.3 1387.0,1024.9 1388.9,1025.4 1390.8,1026.0 1392.7,1026.5 1394.6,1027.0 1396.4,1027.5 1398.2,1028.0 1400.0,1028.5 1402.7,1029.2 1405.4,1030.0 1408.0,1030.7 1410.7,1031.4 1413.3,1032.1 1415.9,1032.8 1418.4,1033.4 1421.0,1034.1 1423.5,1034.8 1426.0,1035.4 1428.5,1036.0 1430.9,1036.7 1433.3,1037.3 1435.7,1037.9 1438.1,1038.5 1440.5,1039.1 1442.8,1039.6 1445.1,1040.2 1447.4,1040.8 1449.6,1041.3 1451.9,1041.9 1454.1,1042.4 1456.2,1042.9 1458.4,1043.5 1460.6,1044.0 1462.7,1044.5 1464.8,1045.0 1466.8,1045.5 1468.9,1046.0 1470.9,1046.5 1472.9,1046.9 1474.9,1047.4 1476.8,1047.9 1478.7,1048.3 1480.6,1048.8 1482.5,1049.2 1484.4,1049.7 1486.2,1050.1 1488.0,1050.6 1489.8,1051.0 1491.6,1051.4 1493.3,1051.8 1495.0,1052.3 1496.7,1052.7 1498.4,1053.1 1500.0,1053.5 1503.2,1054.3 1506.1,1055.0 1508.8,1055.7 1511.4,1056.4 1513.8,1057.0 1516.1,1057.6 1518.3,1058.1 1520.3,1058.6 1522.3,1059.1 1524.1,1059.6 1526.0,1060.1 1527.8,1060.5 1529.5,1061.0 1531.3,1061.4 1533.1,1061.8 1534.9,1062.3 1536.8,1062.8 1538.7,1063.2 1540.7,1063.7 1542.9,1064.3 1545.1,1064.8 1547.5,1065.4 1550.0,1066.0 1551.9,1066.5 1553.9,1066.9 1555.9,1067.4 1558.0,1067.9 1560.1,1068.4 1562.2,1068.9 1564.4,1069.5 1566.7,1070.0 1568.9,1070.5 1571.2,1071.1 1573.5,1071.6 1575.9,1072.2 1578.2,1072.7 1580.5,1073.3 1582.9,1073.8 1585.3,1074.4 1587.6,1075.0 1590.0,1075.5 1592.3,1076.1 1594.7,1076.6 1597.0,1077.2 1599.2,1077.7 1601.5,1078.2 1603.7,1078.7 1605.9,1079.2 1608.1,1079.8 1610.2,1080.2 1612.3,1080.7 1614.3,1081.2 1616.3,1081.6 1618.2,1082.1 1620.0,1082.5 1622.8,1083.1 1625.5,1083.7 1628.2,1084.4 1630.9,1085.0 1633.5,1085.5 1636.2,1086.1 1638.7,1086.7 1641.2,1087.2 1643.7,1087.8 1646.1,1088.3 1648.4,1088.8 1650.6,1089.3 1652.7,1089.7 1654.8,1090.1 1656.7,1090.6 1658.5,1091.0 1660.2,1091.3 1661.8,1091.7 1663.2,1092.0 1664.5,1092.2 1665.7,1092.5" fill="none" stroke="none" marker-start="url(#md)" marker-mid="url(#md)" marker-end="url(#md)"/>
<polyline points="427.0,831.0 428.2,831.0 429.7,831.0 431.4,831.0 433.3,831.1 435.3,831.1 437.5,831.1 439.9,831.1 442.3,831.1 444.8,831.1 447.4,831.2 450.0,831.2 452.6,831.3 455.2,831.5 457.8,831.6 460.3,831.8 462.8,832.0 464.8,832.2 466.8,832.4 468.7,832.7 470.6,833.0 472.5,833.3 474.4,833.6 476.3,833.9 478.2,834.3 480.1,834.6 482.1,835.0 484.2,835.4 486.4,835.8 488.6,836.1 490.9,836.5 493.4,836.9 496.0,837.3 498.7,837.7 501.6,838.1 504.6,838.5 506.3,838.7 508.1,838.9 510.0,839.1 511.9,839.3 513.9,839.6 515.9,839.8 518.0,840.0 520.1,840.2 522.3,840.5 524.5,840.7 526.7,840.9 529.0,841.1 531.3,841.4 533.6,841.6 536.0,841.8 538.3,842.1 540.7,842.3 543.1,842.5 545.5,842.8 547.9,843.0 550.3,843.2 552.6,843.5 555.0,843.7 557.4,843.9 559.7,844.2 562.0,844.4 564.3,844.6 566.6,844.9 568.8,845.1 571.0,845.3 573.2,845.6 575.3,845.8 577.4,846.0 579.4,846.3 581.4,846.5 583.9,846.8 586.3,847.1 588.7,847.4 591.1,847.7 593.4,848.0 595.7,848.3 597.9,848.6 600.1,848.9 602.3,849.1 604.5,849.4 606.6,849.7 608.8,850.0 610.9,850.3 613.0,850.6 615.1,850.9 617.2,851.2 619.2,851.5 621.3,851.8 623.4,852.1 625.5,852.4 627.6,852.7 629.7,853.0 631.9,853.3 634.1,853.6 636.2,853.9 638.5,854.2 640.7,854.5 642.9,854.8 645.1,855.1 647.4,855.4 649.6,855.7 651.9,856.0 654.2,856.3 656.6,856.6 658.9,856.9 661.2,857.2 663.6,857.6 665.9,857.9 668.3,858.2 670.6,858.5 673.0,858.8 675.3,859.1 677.6,859.4 679.9,859.7 682.2,860.1 684.5,860.4 686.7,860.7 688.9,861.0 691.1,861.3 693.3,861.6 695.4,861.9 697.5,862.2 699.5,862.4 701.5,862.7 703.5,863.0 706.1,863.4 708.6,863.7 711.0,864.1 713.3,864.4 715.5,864.7 717.6,865.0 719.7,865.3 721.7,865.6 723.7,865.9 725.7,866.2 727.7,866.6 729.8,866.9 731.8,867.2 734.0,867.5 736.2,867.9 738.5,868.3 740.8,868.7 743.4,869.1 746.0,869.5 748.8,870.0 750.6,870.3 752.5,870.6 754.4,871.0 756.4,871.3 758.3,871.6 760.4,872.0 762.4,872.3 764.5,872.7 766.7,873.1 768.8,873.4 771.0,873.8 773.2,874.2 775.4,874.6 777.6,875.0 779.9,875.4 782.2,875.8 784.5,876.2 786.7,876.6 789.0,877.0 791.3,877.5 793.7,877.9 796.0,878.3 798.3,878.7 800.6,879.1 802.9,879.6 805.2,880.0 807.4,880.4 809.7,880.8 812.0,881.2 814.2,881.7 816.4,882.1 818.6,882.5 820.8,882.9 823.0,883.3 825.1,883.8 827.3,884.2 829.5,884.6 831.7,885.0 833.9,885.4 836.1,885.9 838.2,886.3 840.4,886.7 842.6,887.2 844.8,887.6 847.0,888.0 849.1,888.5 851.3,888.9 853.5,889.3 855.7,889.8 857.9,890.2 860.1,890.7 862.2,891.1 864.4,891.6 866.6,892.0 868.8,892.4 871.0,892.9 873.1,893.3 875.3,893.8 877.5,894.2 879.7,894.7 881.9,895.1 884.0,895.6 886.2,896.0 888.4,896.5 890.6,897.0 892.8,897.4 895.0,897.9 897.3,898.4 899.6,898.8 901.9,899.3 904.2,899.8 906.5,900.3 908.8,900.8 911.1,901.3 913.4,901.8 915.7,902.2 918.0,902.7 920.3,903.2 922.6,903.7 924.9,904.2 927.2,904.7 929.5,905.2 931.7,905.7 933.9,906.2 936.1,906.6 938.3,907.1 940.4,907.6 942.5,908.0 944.6,908.5 946.7,909.0 948.7,909.4 950.6,909.8 952.5,910.3 954.4,910.7 956.2,911.1 958.0,911.5 960.8,912.1 963.3,912.7 965.6,913.3 967.6,913.8 969.5,914.3 971.3,914.7 973.0,915.1 974.7,915.6 976.3,916.0 977.9,916.4 979.6,916.9 981.4,917.4 983.4,917.9 985.5,918.4 987.8,919.0 990.4,919.7 993.3,920.4 996.5,921.1 1000.0,922.0 1001.6,922.4 1003.1,922.7 1004.8,923.1 1006.4,923.5 1008.1,923.9 1009.8,924.3 1011.6,924.7 1013.3,925.1 1015.1,925.5 1017.0,925.9 1018.8,926.4 1020.7,926.8 1022.6,927.2 1024.6,927.7 1026.5,928.1 1028.5,928.6 1030.5,929.0 1032.6,929.5 1034.7,930.0 1036.8,930.5 1038.9,930.9 1041.1,931.4 1043.2,931.9 1045.5,932.4 1047.7,933.0 1050.0,933.5 1052.2,934.0 1054.5,934.5 1056.9,935.1 1059.2,935.6 1061.6,936.2 1064.0,936.8 1066.4,937.3 1068.9,937.9 1071.4,938.5 1073.9,939.1 1076.4,939.7 1078.9,940.3 1081.5,940.9 1084.1,941.5 1086.7,942.2 1089.3,942.8 1091.9,943.5 1094.6,944.1 1097.3,944.8 1100.0,945.5 1101.8,946.0 1103.6,946.4 1105.4,946.9 1107.3,947.3 1109.2,947.8 1111.1,948.3 1113.0,948.8 1114.9,949.3 1116.8,949.8 1118.8,950.3 1120.8,950.8 1122.8,951.3 1124.8,951.8 1126.8,952.3 1128.8,952.8 1130.9,953.4 1132.9,953.9 1135.0,954.4 1137.1,955.0 1139.2,955.5 1141.3,956.0 1143.4,956.6 1145.6,957.1 1147.7,957.7 1149.9,958.3 1152.0,958.8 1154.2,959.4 1156.4,960.0 1158.6,960.5 1160.8,961.1 1163.0,961.7 1165.2,962.3 1167.4,962.8 1169.6,963.4 1171.9,964.0 1174.1,964.6 1176.3,965.2 1178.6,965.8 1180.8,966.4 1183.1,967.0 1185.3,967.5 1187.6,968.1 1189.9,968.7 1192.1,969.3 1194.4,969.9 1196.6,970.5 1198.9,971.1 1201.2,971.7 1203.4,972.4 1205.7,973.0 1207.9,973.6 1210.2,974.2 1212.5,974.8 1214.7,975.4 1217.0,976.0 1219.2,976.6 1221.4,977.2 1223.7,977.8 1225.9,978.4 1228.1,979.0 1230.4,979.6 1232.6,980.2 1234.8,980.8 1237.0,981.4 1239.2,982.0 1241.4,982.6 1243.5,983.2 1245.7,983.8 1247.9,984.4 1250.0,985.0 1252.1,985.6 1254.3,986.2 1256.5,986.8 1258.6,987.4 1260.8,988.0 1263.0,988.6 1265.2,989.3 1267.4,989.9 1269.6,990.5 1271.9,991.2 1274.1,991.8 1276.3,992.4 1278.6,993.1 1280.8,993.7 1283.0,994.4 1285.3,995.0 1287.5,995.7 1289.8,996.4 1292.1,997.0 1294.3,997.7 1296.6,998.3 1298.8,999.0 1301.1,999.7 1303.4,1000.3 1305.6,1001.0 1307.9,1001.7 1310.1,1002.3 1312.4,1003.0 1314.7,1003.7 1316.9,1004.3 1319.2,1005.0 1321.4,1005.7 1323.7,1006.3 1325.9,1007.0 1328.1,1007.7 1330.4,1008.3 1332.6,1009.0 1334.8,1009.6 1337.0,1010.3 1339.2,1010.9 1341.4,1011.6 1343.6,1012.2 1345.8,1012.9 1348.0,1013.5 1350.1,1014.2 1352.3,1014.8 1354.4,1015.4 1356.6,1016.1 1358.7,1016.7 1360.8,1017.3 1362.9,1017.9 1365.0,1018.5 1367.1,1019.1 1369.1,1019.7 1371.2,1020.3 1373.2,1020.9 1375.2,1021.5 1377.2,1022.1 1379.2,1022.7 1381.2,1023.2 1383.2,1023.8 1385.1,1024.3 1387.0,1024.9 1388.9,1025.4 1390.8,1026.0 1392.7,1026.5 1394.6,1027.0 1396.4,1027.5 1398.2,1028.0 1400.0,1028.5 1402.7,1029.2 1405.4,1030.0 1408.0,1030.7 1410.7,1031.4 1413.3,1032.1 1415.9,1032.8 1418.4,1033.4 1421.0,1034.1 1423.5,1034.8 1426.0,1035.4 1428.5,1036.0 1430.9,1036.7 1433.3,1037.3 1435.7,1037.9 1438.1,1038.5 1440.5,1039.1 1442.8,1039.6 1445.1,1040.2 1447.4,1040.8 1449.6,1041.3 1451.9,1041.9 1454.1,1042.4 1456.2,1042.9 1458.4,1043.5 1460.6,1044.0 1462.7,1044.5 1464.8,1045.0 1466.8,1045.5 1468.9,1046.0 1470.9,1046.5 1472.9,1046.9 1474.9,1047.4 1476.8,1047.9 1478.7,1048.3 1480.6,1048.8 1482.5,1049.2 1484.4,1049.7 1486.2,1050.1 1488.0,1050.6 1489.8,1051.0 1491.6,1051.4 1493.3,1051.8 1495.0,1052.3 1496.7,1052.7 1498.4,1053.1 1500.0,1053.5 1503.2,1054.3 1506.1,1055.0 1508.8,1055.7 1511.4,1056.4 1513.8,1057.0 1516.1,1057.6 1518.3,1058.1 1520.3,1058.6 1522.3,1059.1 1524.1,1059.6 1526.0,1060.1 1527.8,1060.5 1529.5,1061.0 1531.3,1061.4 1533.1,1061.8 1534.9,1062.3 1536.8,1062.8 1538.7,1063.2 1540.7,1063.7 1542.9,1064.3 1545.1,1064.8 1547.5,1065.4 1550.0,1066.0 1551.9,1066.5 1553.9,1066.9 1555.9,1067.4 1558.0,1067.9 1560.1,1068.4 1562.2,1068.9 1564.4,1069.5 1566.7,1070.0 1568.9,1070.5 1571.2,1071.1 1573.5,1071.6 1575.9,1072.2 1578.2,1072.7 1580.5,1073.3 1582.9,1073.8 1585.3,1074.4 1587.6,1075.0 1590.0,1075.5 1592.3,1076.1 1594.7,1076.6 1597.0,1077.2 1599.2,1077.7 1601.5,1078.2 1603.7,1078.7 1605.9,1079.2 1608.1,1079.8 1610.2,1080.2 1612.3,1080.7 1614.3,1081.2 1616.3,1081.6 1618.2,1082.1 1620.0,1082.5 1622.8,1083.1 1625.5,1083.7 1628.2,1084.4 1630.9,1085.0 1633.5,1085.5 1636.2,1086.1 1638.7,1086.7 1641.2,1087.2 1643.7,1087.8 1646.1,1088.3 1648.4,1088.8 1650.6,1089.3 1652.7,1089.7 1654.8,1090.1 1656.7,1090.6 1658.5,1091.0 1660.2,1091.3 1661.8,1091.7 1663.2,1092.0 1664.5,1092.2 1665.7,1092.5" fill="none" stroke="none" marker-start="url(#md)" marker-mid="url(#md)" marker-end="url(#md)"/>
<polyline points="431.4,1087.5 431.7,1086.3 432.0,1084.8 432.4,1083.1 432.8,1081.2 433.3,1079.1 433.8,1076.8 434.3,1074.4 434.9,1072.0 435.5,1069.4 436.2,1066.8 436.9,1064.2 437.6,1061.6 438.4,1059.0 439.0,1057.1 439.7,1055.2 440.3,1053.2 441.0,1051.1 441.8,1049.0 442.6,1046.9 443.4,1044.7 444.2,1042.6 445.0,1040.4 445.8,1038.2 446.7,1035.9 447.5,1033.7 448.3,1031.5 449.2,1029.3 450.0,1027.1 450.8,1024.9 451.6,1022.8 452.4,1020.7 453.2,1018.5 454.0,1016.2 454.8,1013.9 455.7,1011.6 456.5,1009.2 457.3,1006.9 458.1,1004.6 458.9,1002.3 459.7,1000.0 460.5,997.8 461.3,995.6 462.1,993.4 462.9,991.4 463.7,989.4 464.5,987.5 465.2,985.7 466.0,984.0 467.3,981.3 468.5,978.9 469.7,976.7 470.9,974.7 472.1,972.8 473.2,971.1 474.4,969.5 475.6,967.9 476.8,966.5 478.0,965.0 479.8,963.1 481.5,961.4 483.3,959.9 485.1,958.6 486.9,957.4 488.8,956.2 490.7,955.0 492.7,953.8 494.7,952.7 496.8,951.6 498.8,950.5 500.9,949.6 503.0,948.7 505.0,948.0 507.2,947.3 509.3,946.6 511.4,946.2 513.5,945.8 515.9,945.6 518.6,945.5 520.7,945.6 522.9,945.7 525.3,945.9 527.8,946.2 530.4,946.5 532.9,946.9 535.4,947.2 537.8,947.6 540.0,948.0 542.4,948.4 544.1,948.8 545.7,949.2 547.5,949.6 549.7,950.2 552.8,951.0 557.0,952.0 558.5,952.3 560.1,952.7 561.8,953.1 563.7,953.5 565.6,954.0 567.6,954.4 569.7,954.9 571.8,955.4 574.0,955.9 576.3,956.4 578.6,956.9 580.9,957.4 583.3,958.0 585.7,958.5 588.1,959.1 590.6,959.6 593.0,960.2 595.4,960.7 597.8,961.3 600.2,961.8 602.5,962.4 604.8,962.9 607.1,963.5 609.3,964.0 611.5,964.5 613.7,965.0 615.8,965.6 618.0,966.1 620.2,966.6 622.4,967.2 624.6,967.7 626.7,968.2 628.9,968.8 631.1,969.3 633.3,969.9 635.4,970.4 637.6,971.0 639.8,971.5 642.0,972.0 644.2,972.6 646.3,973.1 648.5,973.7 650.7,974.2 652.9,974.8 655.1,975.3 657.2,975.9 659.4,976.4 661.6,977.0 663.8,977.6 666.0,978.1 668.1,978.7 670.3,979.2 672.5,979.8 674.7,980.4 676.9,980.9 679.1,981.5 681.3,982.1 683.4,982.7 685.6,983.2 687.8,983.8 690.0,984.4 692.2,985.0 694.4,985.5 696.5,986.1 698.7,986.7 700.9,987.2 703.1,987.8 705.3,988.3 707.5,988.9 709.6,989.4 711.8,990.0 714.0,990.5 716.2,991.0 718.4,991.5 720.5,992.1 722.7,992.6 724.9,993.1 727.1,993.5 729.2,994.0 731.4,994.5 733.6,995.0 735.8,995.5 737.9,996.0 740.1,996.4 742.3,996.9 744.4,997.4 746.6,997.9 748.8,998.4 751.0,998.9 753.1,999.4 755.3,999.9 757.5,1000.4 759.7,1000.9 761.8,1001.4 764.0,1002.0 766.2,1002.5 768.4,1003.0 770.5,1003.6 772.6,1004.1 774.7,1004.7 776.8,1005.2 778.9,1005.8 780.9,1006.3 783.0,1006.9 785.1,1007.4 787.1,1008.0 789.2,1008.5 791.3,1009.1 793.4,1009.7 795.5,1010.3 797.7,1010.9 799.8,1011.5 802.0,1012.1 804.3,1012.8 806.5,1013.4 808.9,1014.1 811.2,1014.8 813.6,1015.5 816.1,1016.2 818.6,1017.0 820.5,1017.6 822.4,1018.1 824.3,1018.7 826.2,1019.4 828.2,1020.0 830.2,1020.6 832.3,1021.2 834.3,1021.9 836.4,1022.6 838.5,1023.2 840.6,1023.9 842.7,1024.6 844.8,1025.3 847.0,1026.0 849.2,1026.7 851.3,1027.4 853.5,1028.1 855.7,1028.8 857.9,1029.5 860.1,1030.3 862.3,1031.0 864.5,1031.7 866.7,1032.4 868.9,1033.1 871.1,1033.9 873.3,1034.6 875.5,1035.3 877.7,1036.0 879.8,1036.7 882.0,1037.4 884.1,1038.1 886.3,1038.8 888.4,1039.5 890.5,1040.2 892.7,1040.9 894.8,1041.6 897.0,1042.3 899.2,1043.0 901.4,1043.7 903.7,1044.4 905.9,1045.1 908.1,1045.9 910.4,1046.6 912.6,1047.3 914.9,1048.0 917.1,1048.8 919.4,1049.5 921.6,1050.2 923.8,1050.9 926.0,1051.7 928.2,1052.4 930.4,1053.1 932.6,1053.8 934.7,1054.5 936.9,1055.1 938.9,1055.8 941.0,1056.5 943.1,1057.2 945.1,1057.8 947.0,1058.4 949.0,1059.1 950.9,1059.7 952.7,1060.3 954.5,1060.9 956.3,1061.4 958.0,1062.0 960.8,1062.9 963.5,1063.8 966.2,1064.7 968.8,1065.5 971.4,1066.4 974.0,1067.2 976.4,1068.0 978.8,1068.8 981.1,1069.6 983.4,1070.3 985.5,1071.0 987.5,1071.7 989.5,1072.3 991.4,1072.9 993.1,1073.5 994.7,1074.1 996.2,1074.6 997.6,1075.0 998.9,1075.4 1000.0,1075.8" fill="none" stroke="none" marker-start="url(#ms)" marker-mid="url(#ms)" marker-end="url(#ms)"/>
<polyline points="434.0,926.5 435.4,926.4 437.0,926.2 439.1,926.0 441.7,925.9 445.0,926.0 449.0,926.5 450.6,926.8 452.3,927.1 454.1,927.5 456.0,927.9 458.0,928.3 460.1,928.8 462.3,929.3 464.5,929.9 466.8,930.4 469.1,931.0 471.6,931.6 474.0,932.2 476.5,932.7 479.1,933.3 481.7,933.9 484.3,934.5 487.0,935.0 488.9,935.4 490.9,935.8 492.9,936.1 494.9,936.5 497.0,936.9 499.1,937.3 501.3,937.7 503.5,938.1 505.7,938.5 507.9,938.9 510.2,939.3 512.4,939.7 514.7,940.1 517.0,940.5 519.3,940.9 521.6,941.3 523.9,941.8 526.3,942.2 528.6,942.6 530.9,943.0 533.2,943.4 535.5,943.8 537.7,944.3 540.0,944.7 542.2,945.1 544.3,945.5 546.5,945.9 548.8,946.4 551.0,946.8 553.2,947.2 555.4,947.6 557.7,948.1 559.9,948.5 562.1,949.0 564.4,949.4 566.6,949.8 568.9,950.3 571.1,950.7 573.3,951.1 575.6,951.6 577.8,952.0 580.0,952.5 582.2,952.9 584.4,953.3 586.5,953.8 588.7,954.2 590.8,954.6 592.9,955.1 595.0,955.5 597.3,956.0 599.6,956.5 601.9,956.9 604.1,957.4 606.3,957.9 608.5,958.3 610.7,958.8 612.8,959.3 615.0,959.7 617.1,960.2 619.2,960.6 621.4,961.1 623.5,961.6 625.7,962.0 627.8,962.5 630.0,963.0 632.3,963.5 634.5,964.0 636.8,964.5 639.2,965.0 641.6,965.6 644.0,966.1 646.0,966.5 648.0,967.0 650.0,967.4 652.1,967.8 654.1,968.3 656.1,968.7 658.2,969.1 660.2,969.5 662.3,970.0 664.4,970.4 666.5,970.8 668.6,971.3 670.7,971.7 672.9,972.2 675.1,972.6 677.3,973.1 679.5,973.6 681.7,974.1 684.0,974.6 686.3,975.2 688.7,975.7 691.1,976.3 693.5,976.9 695.9,977.5 698.4,978.2 700.9,978.8 703.5,979.5 705.4,980.0 707.2,980.5 709.2,981.1 711.1,981.6 713.1,982.2 715.1,982.8 717.1,983.4 719.2,984.0 721.3,984.6 723.4,985.2 725.5,985.9 727.7,986.5 729.8,987.2 732.0,987.8 734.2,988.5 736.3,989.2 738.5,989.9 740.7,990.5 743.0,991.2 745.2,991.9 747.4,992.6 749.6,993.3 751.8,994.0 754.0,994.7 756.2,995.4 758.4,996.1 760.6,996.8 762.8,997.4 765.0,998.1 767.1,998.8 769.3,999.5 771.4,1000.1 773.5,1000.8 775.6,1001.4 777.7,1002.1 779.7,1002.7 781.7,1003.3 783.7,1003.9 786.0,1004.6 788.2,1005.3 790.4,1005.9 792.6,1006.6 794.8,1007.2 797.0,1007.9 799.2,1008.5 801.3,1009.2 803.5,1009.8 805.6,1010.4 807.7,1011.1 809.8,1011.7 811.9,1012.3 814.0,1012.9 816.1,1013.5 818.2,1014.1 820.3,1014.8 822.4,1015.4 824.4,1016.0 826.5,1016.6 828.6,1017.2 830.6,1017.8 832.7,1018.4 834.7,1019.1 836.8,1019.7 838.9,1020.3 840.9,1020.9 843.0,1021.6 845.1,1022.2 847.2,1022.8 849.3,1023.5 851.4,1024.1 853.5,1024.8 855.6,1025.5 857.7,1026.1 859.8,1026.8 861.9,1027.4 864.0,1028.1 866.1,1028.8 868.2,1029.4 870.3,1030.1 872.3,1030.8 874.4,1031.4 876.5,1032.1 878.6,1032.8 880.7,1033.5 882.8,1034.1 884.8,1034.8 886.9,1035.5 889.0,1036.2 891.1,1036.9 893.2,1037.5 895.3,1038.2 897.4,1038.9 899.5,1039.6 901.6,1040.3 903.8,1041.0 905.9,1041.7 908.0,1042.4 910.2,1043.1 912.3,1043.9 914.5,1044.6 916.7,1045.3 918.9,1046.0 921.1,1046.8 923.3,1047.5 925.3,1048.2 927.4,1048.9 929.4,1049.5 931.4,1050.2 933.4,1050.9 935.4,1051.6 937.4,1052.3 939.4,1053.0 941.4,1053.7 943.5,1054.4 945.5,1055.1 947.5,1055.8 949.5,1056.5 951.6,1057.2 953.6,1057.9 955.6,1058.6 957.7,1059.3 959.8,1060.0 961.8,1060.7 963.9,1061.4 966.0,1062.2 968.2,1062.9 970.3,1063.6 972.5,1064.4 974.6,1065.1 976.8,1065.9 979.0,1066.6 981.3,1067.4 983.5,1068.1 985.8,1068.9 988.1,1069.7 990.4,1070.4 992.8,1071.2 995.2,1072.0 997.6,1072.8 1000.0,1073.6 1001.9,1074.2 1003.8,1074.8 1005.7,1075.5 1007.7,1076.1 1009.6,1076.7 1011.6,1077.3 1013.6,1078.0 1015.7,1078.6 1017.7,1079.3 1019.7,1079.9 1021.8,1080.6 1023.9,1081.2 1026.0,1081.9 1028.1,1082.5 1030.2,1083.2 1032.3,1083.9 1034.5,1084.5 1036.6,1085.2 1038.8,1085.9 1040.9,1086.6 1043.1,1087.2 1045.3,1087.9 1047.4,1088.6 1049.6,1089.3 1051.8,1090.0 1054.0,1090.6 1056.2,1091.3 1058.4,1092.0 1060.6,1092.7 1062.9,1093.4 1065.1,1094.1 1067.3,1094.8 1069.5,1095.4 1071.7,1096.1 1073.9,1096.8 1076.1,1097.5 1078.3,1098.2 1080.5,1098.9 1082.7,1099.6 1084.9,1100.2 1087.1,1100.9 1089.2,1101.6 1091.4,1102.3 1093.6,1103.0 1095.7,1103.6 1097.9,1104.3 1100.0,1105.0 1102.1,1105.7 1104.3,1106.4 1106.4,1107.0 1108.5,1107.7 1110.6,1108.4 1112.8,1109.1 1114.9,1109.8 1117.0,1110.5 1119.1,1111.1 1121.3,1111.8 1123.4,1112.5 1125.5,1113.2 1127.7,1113.9 1129.8,1114.6 1131.9,1115.3 1134.0,1116.0 1136.2,1116.7 1138.3,1117.4 1140.4,1118.1 1142.6,1118.8 1144.7,1119.5 1146.8,1120.2 1148.9,1120.9 1151.1,1121.6 1153.2,1122.3 1155.3,1122.9 1157.4,1123.6 1159.6,1124.3 1161.7,1125.0 1163.8,1125.7 1166.0,1126.4 1168.1,1127.1 1170.2,1127.7 1172.3,1128.4 1174.5,1129.1 1176.6,1129.8 1178.7,1130.4 1180.9,1131.1 1183.0,1131.7 1185.1,1132.4 1187.2,1133.1 1189.4,1133.7 1191.5,1134.4 1193.6,1135.0 1195.7,1135.6 1197.9,1136.3 1200.0,1136.9 1202.1,1137.5 1204.3,1138.1 1206.4,1138.8 1208.5,1139.4 1210.6,1140.0 1212.8,1140.6 1214.9,1141.2 1217.0,1141.8 1219.1,1142.4 1221.3,1143.0 1223.4,1143.6 1225.5,1144.2 1227.7,1144.7 1229.8,1145.3 1231.9,1145.9 1234.0,1146.5 1236.2,1147.1 1238.3,1147.6 1240.4,1148.2 1242.6,1148.8 1244.7,1149.3 1246.8,1149.9 1248.9,1150.5 1251.1,1151.0 1253.2,1151.6 1255.3,1152.2 1257.4,1152.7 1259.6,1153.3 1261.7,1153.8 1263.8,1154.4 1266.0,1155.0 1268.1,1155.5 1270.2,1156.1 1272.3,1156.6 1274.5,1157.2 1276.6,1157.8 1278.7,1158.3 1280.9,1158.9 1283.0,1159.5 1285.1,1160.0 1287.2,1160.6 1289.4,1161.1 1291.5,1161.7 1293.6,1162.3 1295.7,1162.9 1297.9,1163.4 1300.0,1164.0 1302.1,1164.6 1304.3,1165.2 1306.4,1165.7 1308.5,1166.3 1310.6,1166.9 1312.8,1167.5 1314.9,1168.1 1317.0,1168.6 1319.1,1169.2 1321.3,1169.8 1323.4,1170.4 1325.5,1171.0 1327.7,1171.6 1329.8,1172.2 1331.9,1172.7 1334.0,1173.3 1336.2,1173.9 1338.3,1174.5 1340.4,1175.1 1342.6,1175.7 1344.7,1176.3 1346.8,1176.8 1348.9,1177.4 1351.1,1178.0 1353.2,1178.6 1355.3,1179.2 1357.4,1179.8 1359.6,1180.3 1361.7,1180.9 1363.8,1181.5 1366.0,1182.1 1368.1,1182.6 1370.2,1183.2 1372.3,1183.8 1374.5,1184.4 1376.6,1184.9 1378.7,1185.5 1380.9,1186.1 1383.0,1186.6 1385.1,1187.2 1387.2,1187.7 1389.4,1188.3 1391.5,1188.8 1393.6,1189.4 1395.7,1189.9 1397.9,1190.5 1400.0,1191.0 1402.2,1191.5 1404.3,1192.1 1406.5,1192.6 1408.7,1193.2 1410.9,1193.7 1413.0,1194.3 1415.2,1194.8 1417.4,1195.3 1419.6,1195.9 1421.7,1196.4 1423.9,1196.9 1426.1,1197.5 1428.3,1198.0 1430.4,1198.5 1432.6,1199.0 1434.8,1199.6 1437.0,1200.1 1439.1,1200.6 1441.3,1201.1 1443.5,1201.6 1445.7,1202.1 1447.8,1202.6 1450.0,1203.2 1452.2,1203.7 1454.3,1204.2 1456.5,1204.7 1458.7,1205.2 1460.9,1205.7 1463.0,1206.2 1465.2,1206.7 1467.4,1207.2 1469.6,1207.7 1471.7,1208.2 1473.9,1208.7 1476.1,1209.2 1478.3,1209.7 1480.4,1210.1 1482.6,1210.6 1484.8,1211.1 1487.0,1211.6 1489.1,1212.1 1491.3,1212.6 1493.5,1213.1 1495.7,1213.5 1497.8,1214.0 1500.0,1214.5 1502.2,1215.0 1504.3,1215.5 1506.5,1215.9 1508.7,1216.4 1510.9,1216.9 1513.0,1217.4 1515.2,1217.8 1517.4,1218.3 1519.6,1218.8 1521.7,1219.3 1523.9,1219.8 1526.1,1220.2 1528.3,1220.7 1530.4,1221.2 1532.6,1221.6 1534.8,1222.1 1537.0,1222.6 1539.1,1223.0 1541.3,1223.5 1543.5,1224.0 1545.7,1224.4 1547.8,1224.9 1550.0,1225.3 1552.2,1225.8 1554.3,1226.2 1556.5,1226.7 1558.7,1227.1 1560.9,1227.6 1563.0,1228.0 1565.2,1228.5 1567.4,1228.9 1569.6,1229.3 1571.7,1229.8 1573.9,1230.2 1576.1,1230.6 1578.3,1231.0 1580.4,1231.4 1582.6,1231.9 1584.8,1232.3 1587.0,1232.7 1589.1,1233.1 1591.3,1233.5 1593.5,1233.9 1595.7,1234.2 1597.8,1234.6 1600.0,1235.0 1602.2,1235.4 1604.5,1235.8 1606.8,1236.1 1609.1,1236.5 1611.4,1236.9 1613.8,1237.3 1616.2,1237.6 1618.6,1238.0 1621.0,1238.4 1623.4,1238.7 1625.8,1239.1 1628.2,1239.5 1630.7,1239.8 1633.1,1240.2 1635.5,1240.5 1638.0,1240.9 1640.4,1241.2 1642.9,1241.5 1645.3,1241.9 1647.7,1242.2 1650.1,1242.5 1652.5,1242.9 1654.9,1243.2 1657.3,1243.5 1659.6,1243.8 1662.0,1244.1 1664.3,1244.4 1666.6,1244.7 1668.8,1245.0 1671.1,1245.3 1673.3,1245.6 1675.5,1245.9 1677.6,1246.2 1679.7,1246.4 1681.8,1246.7 1683.8,1246.9 1685.8,1247.2 1687.7,1247.4 1689.6,1247.7 1691.5,1247.9 1693.3,1248.1 1695.1,1248.4 1696.8,1248.6 1698.4,1248.8 1700.0,1249.0 1703.8,1249.5 1707.3,1249.9 1710.7,1250.3 1713.8,1250.6 1716.7,1250.9 1719.4,1251.2 1721.9,1251.5 1724.3,1251.7 1726.5,1251.9 1728.5,1252.0 1730.4,1252.2 1732.2,1252.3 1733.8,1252.5 1735.4,1252.6 1736.8,1252.7 1738.1,1252.8 1739.3,1252.9 1740.5,1253.0" fill="none" stroke="none" marker-start="url(#ms)" marker-mid="url(#ms)" marker-end="url(#ms)"/>
<rect x="1731.5" y="1244" width="18" height="18" fill="#fff"/>
</g>
<g clip-path="url(#cb)">
<polyline points="432.0,1303.0 433.1,1303.0 434.3,1303.1 435.5,1303.1 436.8,1303.2 438.1,1303.2 439.4,1303.3 440.8,1303.3 442.3,1303.4 443.8,1303.4 445.3,1303.5 446.9,1303.6 448.5,1303.6 450.1,1303.7 451.8,1303.8 453.6,1303.8 455.3,1303.9 457.1,1304.0 459.0,1304.1 460.9,1304.1 462.8,1304.2 464.7,1304.3 466.7,1304.4 468.7,1304.5 470.8,1304.5 472.9,1304.6 475.0,1304.7 477.1,1304.8 479.3,1304.9 481.5,1305.0 483.7,1305.1 486.0,1305.1 488.3,1305.2 490.6,1305.3 492.9,1305.4 495.3,1305.5 497.7,1305.6 500.1,1305.7 502.6,1305.8 505.0,1305.9 507.5,1306.0 510.0,1306.0 512.6,1306.1 515.1,1306.2 517.7,1306.3 520.3,1306.4 522.9,1306.5 525.5,1306.6 528.1,1306.7 530.8,1306.8 533.5,1306.8 536.2,1306.9 538.9,1307.0 541.6,1307.1 544.3,1307.2 547.1,1307.3 549.8,1307.3 552.6,1307.4 555.3,1307.5 558.1,1307.6 560.9,1307.7 563.7,1307.7 566.5,1307.8 569.3,1307.9 572.2,1307.9 575.0,1308.0 576.8,1308.0 578.7,1308.1 580.5,1308.1 582.4,1308.2 584.3,1308.2 586.2,1308.2 588.1,1308.3 590.1,1308.3 592.1,1308.4 594.1,1308.4 596.1,1308.4 598.1,1308.5 600.2,1308.5 602.2,1308.5 604.3,1308.6 606.4,1308.6 608.5,1308.7 610.6,1308.7 612.8,1308.7 614.9,1308.8 617.1,1308.8 619.3,1308.8 621.5,1308.9 623.7,1308.9 625.9,1308.9 628.1,1309.0 630.4,1309.0 632.6,1309.0 634.9,1309.1 637.2,1309.1 639.4,1309.1 641.7,1309.2 644.0,1309.2 646.3,1309.2 648.6,1309.3 651.0,1309.3 653.3,1309.3 655.6,1309.3 658.0,1309.4 660.3,1309.4 662.7,1309.4 665.0,1309.5 667.4,1309.5 669.8,1309.5 672.2,1309.6 674.5,1309.6 676.9,1309.6 679.3,1309.7 681.7,1309.7 684.1,1309.7 686.4,1309.8 688.8,1309.8 691.2,1309.8 693.6,1309.8 696.0,1309.9 698.4,1309.9 700.8,1309.9 703.1,1310.0 705.5,1310.0 707.9,1310.0 710.3,1310.1 712.6,1310.1 715.0,1310.1 717.4,1310.2 719.7,1310.2 722.1,1310.2 724.4,1310.2 726.8,1310.3 729.1,1310.3 731.4,1310.3 733.8,1310.4 736.1,1310.4 738.4,1310.4 740.7,1310.5 743.0,1310.5 745.3,1310.5 747.5,1310.6 749.8,1310.6 752.0,1310.6 754.3,1310.7 756.5,1310.7 758.7,1310.7 760.9,1310.8 763.1,1310.8 765.3,1310.8 767.5,1310.9 769.6,1310.9 771.8,1311.0 773.9,1311.0 776.0,1311.0 778.1,1311.1 780.2,1311.1 782.2,1311.1 784.3,1311.2 786.3,1311.2 788.3,1311.3 790.3,1311.3 792.3,1311.3 794.2,1311.4 796.2,1311.4 798.1,1311.5 800.0,1311.5 802.7,1311.6 805.3,1311.6 807.9,1311.7 810.6,1311.7 813.2,1311.8 815.8,1311.9 818.3,1311.9 820.9,1312.0 823.4,1312.1 825.9,1312.1 828.5,1312.2 830.9,1312.2 833.4,1312.3 835.9,1312.4 838.3,1312.4 840.8,1312.5 843.2,1312.6 845.6,1312.6 848.0,1312.7 850.4,1312.8 852.8,1312.8 855.1,1312.9 857.5,1313.0 859.8,1313.1 862.1,1313.1 864.4,1313.2 866.7,1313.3 869.0,1313.3 871.3,1313.4 873.6,1313.5 875.8,1313.5 878.0,1313.6 880.3,1313.7 882.5,1313.8 884.7,1313.8 886.9,1313.9 889.1,1314.0 891.2,1314.1 893.4,1314.1 895.5,1314.2 897.7,1314.3 899.8,1314.3 901.9,1314.4 904.0,1314.5 906.2,1314.6 908.2,1314.6 910.3,1314.7 912.4,1314.8 914.5,1314.9 916.5,1314.9 918.6,1315.0 920.6,1315.1 922.7,1315.1 924.7,1315.2 926.7,1315.3 928.7,1315.4 930.7,1315.4 932.7,1315.5 934.7,1315.6 936.7,1315.6 938.7,1315.7 940.6,1315.8 942.6,1315.9 944.6,1315.9 946.5,1316.0 948.4,1316.1 950.4,1316.1 952.3,1316.2 954.2,1316.3 956.2,1316.4 958.1,1316.4 960.0,1316.5 962.6,1316.6 965.2,1316.7 967.8,1316.8 970.4,1316.9 972.9,1317.0 975.4,1317.1 977.9,1317.2 980.3,1317.3 982.8,1317.4 985.2,1317.5 987.6,1317.6 989.9,1317.7 992.3,1317.8 994.6,1317.8 996.9,1317.9 999.2,1318.0 1001.5,1318.1 1003.7,1318.2 1006.0,1318.3 1008.2,1318.4 1010.4,1318.5 1012.6,1318.6 1014.8,1318.7 1016.9,1318.8 1019.1,1318.9 1021.2,1319.0 1023.4,1319.1 1025.5,1319.2 1027.6,1319.3 1029.7,1319.4 1031.8,1319.5 1033.9,1319.6 1036.0,1319.7 1038.1,1319.8 1040.1,1319.9 1042.2,1320.0 1044.3,1320.1 1046.3,1320.2 1048.4,1320.2 1050.4,1320.3 1052.5,1320.4 1054.5,1320.5 1056.5,1320.6 1058.6,1320.7 1060.6,1320.8 1062.7,1320.9 1064.7,1321.0 1066.8,1321.1 1068.8,1321.2 1070.9,1321.3 1072.9,1321.4 1075.0,1321.5 1077.4,1321.6 1079.8,1321.7 1082.2,1321.8 1084.5,1321.9 1086.9,1322.1 1089.3,1322.2 1091.6,1322.3 1094.0,1322.4 1096.4,1322.5 1098.7,1322.6 1101.1,1322.7 1103.4,1322.8 1105.7,1323.0 1108.1,1323.1 1110.4,1323.2 1112.7,1323.3 1115.0,1323.4 1117.3,1323.5 1119.6,1323.6 1121.8,1323.7 1124.1,1323.9 1126.4,1324.0 1128.6,1324.1 1130.9,1324.2 1133.1,1324.3 1135.3,1324.4 1137.5,1324.5 1139.7,1324.6 1141.9,1324.8 1144.1,1324.9 1146.2,1325.0 1148.4,1325.1 1150.5,1325.2 1152.6,1325.3 1154.7,1325.4 1156.8,1325.5 1158.9,1325.6 1161.0,1325.7 1163.0,1325.9 1165.1,1326.0 1167.1,1326.1 1169.1,1326.2 1171.1,1326.3 1173.0,1326.4 1175.0,1326.5 1177.5,1326.6 1180.0,1326.8 1182.4,1326.9 1184.7,1327.0 1187.0,1327.2 1189.2,1327.3 1191.4,1327.4 1193.5,1327.5 1195.6,1327.6 1197.7,1327.7 1199.7,1327.9 1201.7,1328.0 1203.7,1328.1 1205.7,1328.2 1207.6,1328.3 1209.6,1328.4 1211.6,1328.5 1213.5,1328.6 1215.5,1328.8 1217.5,1328.9 1219.5,1329.0 1221.6,1329.1 1223.7,1329.3 1225.8,1329.4 1227.9,1329.5 1230.1,1329.7 1232.4,1329.8 1234.7,1330.0 1237.1,1330.1 1239.5,1330.3 1242.0,1330.5 1244.6,1330.6 1247.3,1330.8 1250.0,1331.0 1251.8,1331.1 1253.7,1331.3 1255.6,1331.4 1257.5,1331.5 1259.4,1331.7 1261.4,1331.8 1263.4,1332.0 1265.4,1332.1 1267.4,1332.2 1269.5,1332.4 1271.5,1332.6 1273.6,1332.7 1275.7,1332.9 1277.8,1333.0 1280.0,1333.2 1282.1,1333.4 1284.3,1333.5 1286.5,1333.7 1288.7,1333.9 1290.9,1334.0 1293.1,1334.2 1295.3,1334.4 1297.6,1334.5 1299.8,1334.7 1302.1,1334.9 1304.4,1335.1 1306.7,1335.2 1309.0,1335.4 1311.3,1335.6 1313.6,1335.8 1315.9,1335.9 1318.2,1336.1 1320.6,1336.3 1322.9,1336.5 1325.2,1336.7 1327.6,1336.8 1329.9,1337.0 1332.3,1337.2 1334.6,1337.4 1337.0,1337.5 1339.3,1337.7 1341.7,1337.9 1344.0,1338.0 1346.4,1338.2 1348.7,1338.4 1351.0,1338.5 1353.4,1338.7 1355.7,1338.9 1358.0,1339.0 1360.4,1339.2 1362.7,1339.3 1365.0,1339.5 1367.1,1339.6 1369.3,1339.8 1371.5,1339.9 1373.7,1340.1 1375.9,1340.2 1378.1,1340.3 1380.3,1340.4 1382.6,1340.6 1384.8,1340.7 1387.0,1340.8 1389.3,1341.0 1391.6,1341.1 1393.9,1341.2 1396.1,1341.3 1398.4,1341.4 1400.7,1341.6 1403.0,1341.7 1405.3,1341.8 1407.6,1341.9 1409.9,1342.0 1412.2,1342.1 1414.6,1342.3 1416.9,1342.4 1419.2,1342.5 1421.5,1342.6 1423.8,1342.7 1426.1,1342.8 1428.4,1343.0 1430.7,1343.1 1433.1,1343.2 1435.4,1343.3 1437.7,1343.5 1439.9,1343.6 1442.2,1343.7 1444.5,1343.8 1446.8,1344.0 1449.1,1344.1 1451.3,1344.2 1453.6,1344.4 1455.8,1344.5 1458.0,1344.6 1460.3,1344.8 1462.5,1344.9 1464.7,1345.0 1466.9,1345.2 1469.1,1345.3 1471.2,1345.5 1473.4,1345.6 1475.5,1345.8 1477.6,1346.0 1479.7,1346.1 1481.8,1346.3 1483.9,1346.5 1485.9,1346.6 1488.0,1346.8 1490.0,1347.0 1492.5,1347.2 1495.0,1347.5 1497.4,1347.7 1499.8,1347.9 1502.2,1348.2 1504.6,1348.4 1506.9,1348.6 1509.3,1348.9 1511.6,1349.1 1513.9,1349.4 1516.2,1349.6 1518.5,1349.9 1520.7,1350.1 1523.0,1350.4 1525.2,1350.7 1527.4,1350.9 1529.6,1351.2 1531.8,1351.5 1534.0,1351.7 1536.2,1352.0 1538.3,1352.3 1540.5,1352.6 1542.6,1352.9 1544.8,1353.1 1546.9,1353.4 1549.1,1353.7 1551.2,1354.0 1553.3,1354.3 1555.5,1354.6 1557.6,1354.9 1559.7,1355.3 1561.9,1355.6 1564.0,1355.9 1566.1,1356.2 1568.3,1356.5 1570.4,1356.9 1572.5,1357.2 1574.7,1357.5 1576.9,1357.9 1579.0,1358.2 1581.2,1358.6 1583.4,1358.9 1585.6,1359.3 1587.8,1359.6 1590.0,1360.0 1592.2,1360.4 1594.3,1360.7 1596.5,1361.1 1598.7,1361.5 1600.9,1361.9 1603.0,1362.3 1605.2,1362.7 1607.4,1363.1 1609.6,1363.5 1611.7,1363.9 1613.9,1364.3 1616.1,1364.7 1618.3,1365.1 1620.4,1365.6 1622.6,1366.0 1624.8,1366.4 1627.0,1366.9 1629.1,1367.3 1631.3,1367.8 1633.5,1368.2 1635.7,1368.7 1637.8,1369.1 1640.0,1369.6 1642.2,1370.0 1644.3,1370.5 1646.5,1370.9 1648.7,1371.4 1650.9,1371.8 1653.0,1372.3 1655.2,1372.8 1657.4,1373.2 1659.6,1373.7 1661.7,1374.1 1663.9,1374.6 1666.1,1375.1 1668.3,1375.5 1670.4,1376.0 1672.6,1376.4 1674.8,1376.9 1677.0,1377.3 1679.1,1377.8 1681.3,1378.2 1683.5,1378.7 1685.7,1379.1 1687.8,1379.6 1690.0,1380.0 1692.2,1380.4 1694.3,1380.9 1696.5,1381.3 1698.7,1381.7 1700.9,1382.2 1703.0,1382.6 1705.2,1383.0 1707.4,1383.4 1709.6,1383.9 1711.7,1384.3 1713.9,1384.7 1716.1,1385.2 1718.3,1385.6 1720.4,1386.0 1722.6,1386.4 1724.8,1386.9 1727.0,1387.3 1729.1,1387.7 1731.3,1388.1 1733.5,1388.6 1735.7,1389.0 1737.8,1389.4 1740.0,1389.8 1742.2,1390.3 1744.3,1390.7 1746.5,1391.1 1748.7,1391.6 1750.9,1392.0 1753.0,1392.4 1755.2,1392.9 1757.4,1393.3 1759.6,1393.7 1761.7,1394.2 1763.9,1394.6 1766.1,1395.0 1768.3,1395.5 1770.4,1395.9 1772.6,1396.4 1774.8,1396.8 1777.0,1397.3 1779.1,1397.7 1781.3,1398.2 1783.5,1398.6 1785.7,1399.1 1787.8,1399.5 1790.0,1400.0 1792.2,1400.5 1794.4,1400.9 1796.6,1401.4 1798.8,1401.9 1801.0,1402.4 1803.2,1402.9 1805.5,1403.4 1807.7,1403.9 1810.0,1404.4 1812.2,1404.9 1814.5,1405.4 1816.7,1405.9 1819.0,1406.4 1821.2,1406.9 1823.5,1407.4 1825.8,1407.9 1828.0,1408.5 1830.3,1409.0 1832.6,1409.5 1834.8,1410.0 1837.1,1410.5 1839.3,1411.0 1841.6,1411.6 1843.8,1412.1 1846.0,1412.6 1848.3,1413.1 1850.5,1413.6 1852.7,1414.1 1854.9,1414.6 1857.1,1415.1 1859.2,1415.6 1861.4,1416.1 1863.6,1416.6 1865.7,1417.1 1867.8,1417.6 1869.9,1418.1 1872.0,1418.5 1874.1,1419.0 1876.1,1419.5 1878.2,1419.9 1880.2,1420.4 1882.2,1420.8 1884.2,1421.2 1886.1,1421.7 1888.1,1422.1 1890.0,1422.5 1892.6,1423.0 1895.1,1423.6 1897.7,1424.1 1900.2,1424.7 1902.7,1425.2 1905.2,1425.7 1907.7,1426.3 1910.2,1426.8 1912.6,1427.3 1915.0,1427.8 1917.4,1428.3 1919.8,1428.8 1922.2,1429.3 1924.5,1429.7 1926.8,1430.2 1929.1,1430.7 1931.4,1431.1 1933.6,1431.6 1935.8,1432.0 1938.0,1432.4 1940.2,1432.9 1942.3,1433.3 1944.4,1433.7 1946.4,1434.1 1948.4,1434.5 1950.4,1434.9 1952.4,1435.2 1954.3,1435.6 1956.2,1435.9 1958.0,1436.3 1959.8,1436.6 1961.6,1436.9 1963.3,1437.2 1965.0,1437.5 1968.3,1438.0 1971.4,1438.5 1974.4,1439.0 1977.3,1439.4 1980.0,1439.7 1982.7,1440.0 1985.2,1440.3 1987.5,1440.6 1989.8,1440.8 1991.9,1441.0 1993.9,1441.2 1995.7,1441.3 1997.5,1441.5 1999.0,1441.6 2000.5,1441.7 2001.8,1441.9 2003.0,1442.0" fill="none" stroke="none" marker-start="url(#msb)" marker-mid="url(#msb)" marker-end="url(#msb)"/>
<polyline points="421.0,2283.0 421.8,2282.2 422.7,2281.4 423.7,2280.5 424.7,2279.4 425.9,2278.3 427.3,2277.0 428.8,2275.5 430.6,2273.8 432.7,2271.8 435.0,2269.5 437.7,2266.9 440.7,2264.0 441.8,2262.9 443.0,2261.8 444.2,2260.6 445.5,2259.3 446.8,2258.0 448.2,2256.6 449.7,2255.2 451.2,2253.7 452.7,2252.2 454.3,2250.7 455.9,2249.1 457.5,2247.5 459.2,2245.9 460.9,2244.2 462.6,2242.5 464.3,2240.8 466.1,2239.1 467.8,2237.3 469.6,2235.6 471.4,2233.8 473.1,2232.1 474.9,2230.4 476.7,2228.6 478.4,2226.9 480.2,2225.2 481.9,2223.5 483.6,2221.8 485.3,2220.1 487.0,2218.5 488.6,2216.9 490.3,2215.3 491.8,2213.8 493.4,2212.3 494.9,2210.9 496.3,2209.5 497.7,2208.1 499.6,2206.3 501.4,2204.5 503.2,2202.8 504.9,2201.1 506.6,2199.5 508.2,2197.9 509.9,2196.3 511.5,2194.7 513.0,2193.2 514.6,2191.7 516.1,2190.2 517.6,2188.8 519.1,2187.3 520.6,2185.9 522.1,2184.5 523.6,2183.0 525.1,2181.6 526.6,2180.2 528.2,2178.8 529.7,2177.4 531.3,2176.0 532.9,2174.5 534.5,2173.1 536.1,2171.6 537.8,2170.1 539.5,2168.6 541.1,2167.2 542.8,2165.7 544.5,2164.3 546.3,2162.8 548.1,2161.3 549.9,2159.7 551.8,2158.2 553.6,2156.7 555.5,2155.1 557.4,2153.6 559.3,2152.1 561.2,2150.5 563.1,2149.0 565.0,2147.5 566.8,2146.0 568.7,2144.5 570.5,2143.0 572.3,2141.6 574.1,2140.2 575.8,2138.8 577.5,2137.4 579.2,2136.1 580.8,2134.8 582.3,2133.6 583.8,2132.4 585.3,2131.2 586.6,2130.1 587.9,2129.1 590.6,2126.9 593.0,2124.9 595.1,2123.2 597.0,2121.6 598.7,2120.2 600.2,2119.0 601.7,2117.8 603.1,2116.6 604.5,2115.5 606.0,2114.3 607.6,2113.0 609.3,2111.6 611.1,2110.2 612.9,2108.7 614.7,2107.4 616.5,2106.0 618.3,2104.6 620.1,2103.2 621.9,2101.8 623.7,2100.3 625.6,2098.9 627.5,2097.4 629.4,2095.8 631.4,2094.2 633.0,2092.9 634.6,2091.5 636.3,2090.1 637.9,2088.6 639.6,2087.2 641.3,2085.7 643.1,2084.2 644.8,2082.7 646.5,2081.1 648.3,2079.6 650.0,2078.1 651.8,2076.6 653.5,2075.1 655.3,2073.6 657.0,2072.1 658.7,2070.7 660.5,2069.2 662.2,2067.9 663.9,2066.5 665.6,2065.1 667.3,2063.8 669.0,2062.4 670.8,2061.0 672.5,2059.6 674.3,2058.2 676.1,2056.7 678.0,2055.2 679.8,2053.7 681.7,2052.1 683.7,2050.5 685.3,2049.2 686.9,2047.8 688.5,2046.4 690.1,2045.0 691.8,2043.6 693.5,2042.1 695.2,2040.6 696.9,2039.1 698.6,2037.6 700.4,2036.1 702.1,2034.5 703.9,2033.0 705.6,2031.4 707.4,2029.9 709.2,2028.3 711.0,2026.8 712.7,2025.2 714.5,2023.6 716.3,2022.1 718.0,2020.6 719.7,2019.2 721.4,2017.7 723.0,2016.3 724.7,2014.9 726.4,2013.4 728.1,2012.0 729.8,2010.5 731.6,2009.1 733.3,2007.6 735.0,2006.1 736.7,2004.6 738.5,2003.1 740.3,2001.6 742.0,2000.0 743.8,1998.5 745.7,1996.9 747.5,1995.2 749.3,1993.6 751.2,1991.9 752.7,1990.5 754.2,1989.1 755.8,1987.7 757.4,1986.2 759.0,1984.7 760.6,1983.2 762.2,1981.7 763.8,1980.1 765.5,1978.6 767.1,1977.0 768.8,1975.4 770.4,1973.8 772.1,1972.2 773.7,1970.6 775.4,1969.1 777.0,1967.5 778.7,1965.9 780.3,1964.4 781.9,1962.8 783.6,1961.3 785.2,1959.8 786.7,1958.3 788.3,1956.8 789.9,1955.4 791.4,1954.0 793.2,1952.4 795.0,1950.8 796.7,1949.3 798.4,1947.8 800.1,1946.3 801.7,1944.8 803.4,1943.4 805.0,1942.0 806.7,1940.6 808.3,1939.2 810.0,1937.8 811.6,1936.4 813.3,1935.0 814.9,1933.5 816.6,1932.1 818.3,1930.6 820.0,1929.1 821.8,1927.5 823.6,1925.9 825.4,1924.3 827.3,1922.6 828.8,1921.2 830.4,1919.8 832.0,1918.3 833.6,1916.8 835.3,1915.2 837.0,1913.6 838.8,1912.0 840.6,1910.3 842.4,1908.7 844.2,1907.0 846.0,1905.3 847.8,1903.6 849.6,1901.9 851.4,1900.2 853.1,1898.6 854.9,1896.9 856.6,1895.3 858.3,1893.7 859.9,1892.2 861.5,1890.6 863.1,1889.2 864.5,1887.8 866.0,1886.4 867.3,1885.2 868.6,1884.0 869.8,1882.8 870.9,1881.8 873.9,1879.0 875.9,1877.0 877.3,1875.6 878.2,1874.6 879.2,1873.7 880.4,1872.5 882.2,1870.9 884.9,1868.6 886.2,1867.5 887.5,1866.4 889.0,1865.2 890.6,1863.9 892.2,1862.5 893.9,1861.1 895.7,1859.7 897.6,1858.2 899.5,1856.6 901.4,1855.1 903.4,1853.5 905.3,1851.9 907.3,1850.3 909.2,1848.7 911.2,1847.2 913.0,1845.6 914.9,1844.1 916.7,1842.6 918.5,1841.2 920.1,1839.8 921.7,1838.5 923.2,1837.2 925.2,1835.5 926.9,1833.9 928.5,1832.5 930.0,1831.1 931.3,1829.8 932.6,1828.5 933.8,1827.3 935.1,1826.0 936.5,1824.7 937.9,1823.4 939.5,1821.9 941.3,1820.3 943.4,1818.6 945.7,1816.6 948.3,1814.5 949.6,1813.4 951.0,1812.3 952.5,1811.2 954.1,1809.9 955.7,1808.7 957.4,1807.3 959.2,1806.0 961.1,1804.6 962.9,1803.2 964.9,1801.7 966.8,1800.2 968.8,1798.7 970.8,1797.2 972.8,1795.7 974.9,1794.1 976.9,1792.6 979.0,1791.0 981.0,1789.5 983.1,1788.0 985.1,1786.5 987.1,1785.0 989.0,1783.5 991.0,1782.0 992.9,1780.6 994.7,1779.2 996.5,1777.9 998.2,1776.6 999.8,1775.3 1001.4,1774.1 1002.9,1773.0 1004.3,1771.9 1005.7,1770.9 1006.9,1769.9 1010.1,1767.3 1012.8,1765.1 1015.0,1763.3 1016.9,1761.7 1018.4,1760.3 1019.7,1759.1 1020.9,1758.0 1022.1,1756.9 1023.2,1755.8 1024.6,1754.7 1026.1,1753.5 1028.1,1752.0 1030.1,1750.5 1032.1,1749.1 1034.1,1747.8 1036.0,1746.4 1038.0,1745.2 1039.9,1743.9 1041.7,1742.6 1043.6,1741.3 1045.6,1739.8 1047.7,1738.4 1049.6,1736.9 1051.6,1735.4 1053.5,1734.0 1055.4,1732.6 1057.3,1731.2 1059.3,1729.8 1061.1,1728.6 1062.7,1727.5 1064.2,1726.5 1065.7,1725.5 1067.5,1724.4 1069.5,1723.1 1072.0,1721.4 1075.0,1719.3 1076.4,1718.4 1077.9,1717.3 1079.5,1716.2 1081.2,1714.9 1083.1,1713.6 1085.0,1712.3 1087.0,1710.9 1089.0,1709.4 1091.1,1708.0 1093.2,1706.5 1095.3,1705.0 1097.4,1703.5 1099.5,1702.1 1101.5,1700.6 1103.5,1699.2 1105.4,1697.9 1107.2,1696.6 1108.9,1695.4 1110.5,1694.3 1112.0,1693.3 1113.3,1692.4 1116.6,1690.2 1119.1,1688.6 1121.1,1687.4 1122.7,1686.5 1124.1,1685.7 1125.6,1684.8 1127.3,1683.7 1129.0,1682.5 1130.5,1681.5 1132.0,1680.4 1133.5,1679.3 1135.2,1678.1 1137.4,1676.7 1140.2,1675.0 1141.6,1674.2 1143.0,1673.3 1144.5,1672.4 1146.1,1671.4 1147.8,1670.5 1149.5,1669.5 1151.2,1668.4 1153.1,1667.3 1155.0,1666.2 1157.0,1665.1 1159.1,1663.9 1161.3,1662.7 1163.6,1661.4 1165.9,1660.2 1168.4,1658.8 1170.9,1657.5 1172.5,1656.6 1174.2,1655.8 1176.0,1654.8 1177.8,1653.9 1179.7,1652.9 1181.6,1652.0 1183.5,1651.0 1185.5,1649.9 1187.5,1648.9 1189.6,1647.9 1191.7,1646.8 1193.8,1645.7 1195.9,1644.7 1198.1,1643.6 1200.2,1642.5 1202.4,1641.5 1204.5,1640.4 1206.7,1639.3 1208.8,1638.3 1210.9,1637.2 1213.0,1636.2 1215.1,1635.2 1217.2,1634.2 1219.2,1633.3 1221.2,1632.3 1223.2,1631.4 1225.3,1630.4 1227.5,1629.4 1229.6,1628.5 1231.8,1627.5 1234.0,1626.6 1236.1,1625.6 1238.3,1624.7 1240.5,1623.7 1242.7,1622.8 1244.8,1621.9 1247.0,1621.0 1249.1,1620.1 1251.2,1619.2 1253.3,1618.3 1255.4,1617.5 1257.4,1616.7 1259.4,1615.8 1261.3,1615.0 1263.3,1614.2 1265.1,1613.4 1266.9,1612.7 1268.7,1611.9 1270.4,1611.2 1272.0,1610.5 1274.8,1609.3 1277.3,1608.2 1279.6,1607.2 1281.8,1606.3 1283.7,1605.5 1285.6,1604.7 1287.5,1603.9 1289.3,1603.0 1291.2,1602.2 1293.1,1601.3 1295.2,1600.3 1297.5,1599.2 1300.0,1598.0 1301.7,1597.1 1303.5,1596.2 1305.3,1595.3 1307.1,1594.3 1308.9,1593.3 1310.8,1592.3 1312.7,1591.2 1314.7,1590.1 1316.6,1589.0 1318.6,1587.9 1320.7,1586.8 1322.7,1585.7 1324.8,1584.5 1326.9,1583.4 1329.0,1582.3 1331.2,1581.2 1333.3,1580.1 1335.5,1579.1 1337.8,1578.0 1340.0,1577.0 1341.9,1576.2 1343.8,1575.3 1345.8,1574.5 1347.8,1573.6 1349.8,1572.8 1351.8,1572.0 1353.9,1571.1 1355.9,1570.3 1358.0,1569.5 1360.1,1568.6 1362.2,1567.8 1364.4,1567.0 1366.5,1566.2 1368.7,1565.4 1370.8,1564.6 1373.0,1563.8 1375.1,1563.0 1377.3,1562.3 1379.4,1561.5 1381.6,1560.8 1383.7,1560.1 1385.8,1559.4 1387.9,1558.7 1390.0,1558.0 1392.2,1557.3 1394.3,1556.6 1396.5,1556.0 1398.7,1555.3 1400.9,1554.7 1403.0,1554.1 1405.2,1553.5 1407.4,1552.9 1409.6,1552.3 1411.7,1551.7 1413.9,1551.1 1416.1,1550.6 1418.3,1550.0 1420.4,1549.5 1422.6,1549.0 1424.8,1548.4 1427.0,1547.9 1429.1,1547.4 1431.3,1546.9 1433.5,1546.4 1435.7,1545.9 1437.8,1545.5 1440.0,1545.0 1442.2,1544.5 1444.3,1544.1 1446.5,1543.7 1448.7,1543.3 1450.9,1542.9 1453.0,1542.5 1455.2,1542.1 1457.4,1541.7 1459.6,1541.4 1461.7,1541.0 1463.9,1540.7 1466.1,1540.3 1468.3,1540.0 1470.4,1539.7 1472.6,1539.3 1474.8,1539.0 1477.0,1538.6 1479.1,1538.3 1481.3,1538.0 1483.5,1537.6 1485.7,1537.2 1487.8,1536.9 1490.0,1536.5 1492.2,1536.1 1494.3,1535.7 1496.5,1535.3 1498.7,1535.0 1500.9,1534.6 1503.0,1534.2 1505.2,1533.8 1507.4,1533.4 1509.6,1533.0 1511.7,1532.6 1513.9,1532.2 1516.1,1531.8 1518.3,1531.4 1520.4,1531.0 1522.6,1530.6 1524.8,1530.2 1527.0,1529.8 1529.1,1529.4 1531.3,1529.0 1533.5,1528.7 1535.7,1528.3 1537.8,1527.9 1540.0,1527.5 1542.2,1527.1 1544.3,1526.7 1546.5,1526.4 1548.7,1526.0 1550.9,1525.6 1553.0,1525.2 1555.2,1524.8 1557.4,1524.4 1559.6,1524.0 1561.7,1523.7 1563.9,1523.3 1566.1,1522.9 1568.3,1522.5 1570.4,1522.2 1572.6,1521.8 1574.8,1521.4 1577.0,1521.1 1579.1,1520.7 1581.3,1520.4 1583.5,1520.0 1585.7,1519.7 1587.8,1519.3 1590.0,1519.0 1592.3,1518.7 1594.5,1518.3 1596.8,1518.0 1599.1,1517.7 1601.4,1517.4 1603.6,1517.0 1605.9,1516.7 1608.2,1516.4 1610.5,1516.1 1612.7,1515.8 1615.0,1515.5 1617.3,1515.2 1619.5,1515.0 1621.8,1514.7 1624.1,1514.4 1626.4,1514.1 1628.6,1513.8 1630.9,1513.6 1633.2,1513.3 1635.5,1513.0 1637.7,1512.8 1640.0,1512.5 1642.3,1512.2 1644.5,1512.0 1646.8,1511.8 1649.1,1511.5 1651.4,1511.3 1653.6,1511.1 1655.9,1510.9 1658.2,1510.7 1660.5,1510.5 1662.7,1510.3 1665.0,1510.1 1667.3,1509.9 1669.5,1509.6 1671.8,1509.4 1674.1,1509.2 1676.4,1509.0 1678.6,1508.8 1680.9,1508.5 1683.2,1508.3 1685.5,1508.0 1687.7,1507.8 1690.0,1507.5 1692.3,1507.2 1694.5,1506.9 1696.8,1506.6 1699.1,1506.3 1701.4,1506.0 1703.6,1505.6 1705.9,1505.3 1708.2,1505.0 1710.5,1504.6 1712.7,1504.3 1715.0,1503.9 1717.3,1503.5 1719.5,1503.2 1721.8,1502.8 1724.1,1502.5 1726.4,1502.1 1728.6,1501.8 1730.9,1501.4 1733.2,1501.0 1735.5,1500.7 1737.7,1500.3 1740.0,1500.0 1742.3,1499.7 1744.5,1499.3 1746.8,1499.0 1749.1,1498.6 1751.4,1498.2 1753.6,1497.9 1755.9,1497.5 1758.2,1497.2 1760.5,1496.8 1762.7,1496.5 1765.0,1496.1 1767.3,1495.7 1769.5,1495.4 1771.8,1495.0 1774.1,1494.7 1776.4,1494.4 1778.6,1494.0 1780.9,1493.7 1783.2,1493.4 1785.5,1493.1 1787.7,1492.8 1790.0,1492.5 1792.3,1492.2 1794.6,1492.0 1797.0,1491.7 1799.4,1491.4 1801.8,1491.2 1804.2,1491.0 1806.6,1490.7 1809.0,1490.5 1811.4,1490.3 1813.9,1490.1 1816.2,1489.8 1818.6,1489.6 1821.0,1489.4 1823.3,1489.2 1825.6,1489.0 1827.8,1488.8 1830.0,1488.6 1832.1,1488.4 1834.2,1488.2 1836.2,1487.9 1838.1,1487.7 1840.0,1487.5 1843.0,1487.1 1845.8,1486.8 1848.5,1486.4 1851.0,1486.0 1853.5,1485.7 1855.8,1485.3 1858.0,1485.0 1860.1,1484.6 1862.2,1484.2 1864.2,1483.8 1866.1,1483.4 1868.1,1483.0 1870.0,1482.5 1872.6,1481.8 1875.0,1481.1 1877.2,1480.4 1879.3,1479.6 1881.3,1478.8 1883.3,1477.9 1885.4,1477.0 1887.6,1476.0 1890.0,1475.0 1891.9,1474.1 1893.9,1473.2 1895.9,1472.2 1898.0,1471.2 1900.1,1470.1 1902.2,1469.0 1904.3,1467.9 1906.5,1466.8 1908.6,1465.8 1910.8,1464.8 1912.9,1463.9 1915.0,1463.0 1917.3,1462.1 1919.5,1461.2 1921.8,1460.4 1924.1,1459.5 1926.4,1458.8 1928.6,1458.0 1930.9,1457.3 1933.2,1456.7 1935.5,1456.2 1937.7,1455.8 1940.0,1455.5 1942.2,1455.3 1944.4,1455.2 1946.5,1455.2 1948.6,1455.3 1950.7,1455.5 1952.8,1455.7 1955.0,1456.0 1957.3,1456.3 1959.7,1456.7 1962.3,1457.1 1965.0,1457.5 1966.9,1457.8 1969.1,1458.2 1971.4,1458.6 1973.8,1459.0 1976.3,1459.5 1978.8,1460.0 1981.4,1460.6 1984.0,1461.1 1986.6,1461.6 1989.1,1462.2 1991.5,1462.7 1993.8,1463.2 1996.0,1463.6 1998.0,1464.1 1999.7,1464.4 2001.3,1464.7 2002.5,1465.0" fill="none" stroke="none" marker-start="url(#msb)" marker-mid="url(#msb)" marker-end="url(#msb)"/>
<polyline points="442.0,2419.0 442.9,2418.2 444.0,2417.3 445.2,2416.2 446.5,2415.1 447.9,2413.9 449.4,2412.6 451.0,2411.1 452.7,2409.7 454.5,2408.1 456.3,2406.5 458.2,2404.9 460.1,2403.2 462.1,2401.5 464.1,2399.8 466.1,2398.0 468.1,2396.3 470.1,2394.5 472.2,2392.8 474.2,2391.1 476.1,2389.4 478.1,2387.7 480.0,2386.1 481.8,2384.6 483.6,2383.1 485.3,2381.7 487.0,2380.3 488.5,2379.1 490.0,2377.9 492.3,2376.1 494.5,2374.5 496.6,2372.9 498.6,2371.5 500.6,2370.1 502.5,2368.8 504.3,2367.6 506.1,2366.4 507.9,2365.3 509.6,2364.2 511.3,2363.1 512.9,2362.1 514.5,2361.0 516.2,2360.0 517.7,2358.9 519.3,2357.8 520.9,2356.7 522.9,2355.2 524.9,2353.7 526.8,2352.3 528.7,2350.8 530.5,2349.4 532.2,2348.0 534.0,2346.7 535.7,2345.3 537.3,2344.0 538.9,2342.6 540.5,2341.3 542.1,2340.1 543.7,2338.8 545.6,2337.3 547.4,2335.9 549.1,2334.6 550.7,2333.4 552.2,2332.2 553.9,2330.9 555.5,2329.6 557.4,2328.0 559.4,2326.2 561.6,2324.2 562.9,2322.9 564.4,2321.6 565.8,2320.1 567.3,2318.6 568.9,2317.0 570.5,2315.4 572.2,2313.7 573.8,2312.0 575.5,2310.2 577.3,2308.5 579.0,2306.7 580.7,2304.9 582.4,2303.2 584.2,2301.4 585.9,2299.7 587.6,2298.1 589.3,2296.5 590.9,2294.9 592.6,2293.3 594.3,2291.8 596.0,2290.3 597.7,2288.9 599.3,2287.5 601.0,2286.1 602.7,2284.7 604.3,2283.3 606.0,2282.0 607.7,2280.6 609.4,2279.1 611.1,2277.7 612.9,2276.2 614.7,2274.6 616.5,2273.0 618.3,2271.3 620.2,2269.5 621.6,2268.1 623.1,2266.7 624.5,2265.2 626.0,2263.7 627.5,2262.1 629.1,2260.5 630.6,2258.9 632.1,2257.2 633.7,2255.5 635.3,2253.8 636.9,2252.1 638.4,2250.4 640.0,2248.7 641.6,2247.0 643.2,2245.4 644.8,2243.7 646.4,2242.1 648.0,2240.4 649.6,2238.9 651.1,2237.3 652.7,2235.8 654.3,2234.4 655.8,2233.0 657.7,2231.4 659.5,2229.8 661.3,2228.2 663.2,2226.7 665.0,2225.2 666.9,2223.7 668.7,2222.3 670.5,2220.8 672.4,2219.5 674.2,2218.1 676.0,2216.8 677.9,2215.5 679.7,2214.2 681.5,2212.9 683.4,2211.7 685.2,2210.5 687.0,2209.3 688.9,2208.1 690.7,2207.0 692.8,2205.7 694.9,2204.5 697.0,2203.3 699.2,2202.2 701.3,2201.0 703.5,2199.9 705.7,2198.9 707.8,2197.8 709.9,2196.8 712.1,2195.8 714.1,2194.9 716.2,2194.0 718.2,2193.1 720.1,2192.3 722.0,2191.5 723.9,2190.7 725.6,2190.0 728.1,2189.0 730.3,2188.1 732.3,2187.4 734.1,2186.7 735.9,2186.1 737.7,2185.6 739.5,2185.1 741.5,2184.6 743.6,2184.1 746.1,2183.6 748.8,2183.0 750.7,2182.6 752.6,2182.2 754.7,2181.8 756.9,2181.4 759.1,2181.0 761.4,2180.5 763.8,2180.1 766.2,2179.7 768.7,2179.3 771.1,2178.9 773.6,2178.5 776.1,2178.1 778.5,2177.7 780.9,2177.3 783.3,2177.0 785.6,2176.6 787.8,2176.3 790.0,2176.0 792.4,2175.6 794.7,2175.3 796.8,2174.9 798.7,2174.5 800.6,2174.2 802.5,2173.8 804.4,2173.5 806.4,2173.2 808.4,2172.9 810.6,2172.7 813.0,2172.6 815.5,2172.4 818.4,2172.4 821.5,2172.4 825.0,2172.5 826.6,2172.6 828.3,2172.6 830.1,2172.7 831.8,2172.8 833.7,2172.9 835.5,2173.0 837.4,2173.1 839.4,2173.2 841.3,2173.4 843.4,2173.5 845.4,2173.7 847.5,2173.8 849.6,2174.0 851.8,2174.2 854.0,2174.4 856.2,2174.6 858.4,2174.8 860.7,2175.0 863.0,2175.2 865.3,2175.5 867.7,2175.7 870.1,2176.0 872.5,2176.3 874.9,2176.5 877.3,2176.8 879.8,2177.1 882.3,2177.5 884.8,2177.8 887.3,2178.1 889.8,2178.5 892.3,2178.8 894.9,2179.2 897.4,2179.6 900.0,2180.0 901.9,2180.3 903.9,2180.6 905.8,2180.9 907.8,2181.3 909.8,2181.6 911.8,2181.9 913.9,2182.3 915.9,2182.6 918.0,2183.0 920.1,2183.4 922.2,2183.8 924.3,2184.1 926.4,2184.5 928.6,2184.9 930.8,2185.3 932.9,2185.7 935.1,2186.2 937.3,2186.6 939.5,2187.0 941.7,2187.4 944.0,2187.9 946.2,2188.3 948.4,2188.8 950.7,2189.2 952.9,2189.7 955.2,2190.1 957.4,2190.6 959.7,2191.0 962.0,2191.5 964.2,2192.0 966.5,2192.5 968.8,2193.0 971.0,2193.4 973.3,2193.9 975.5,2194.4 977.8,2194.9 980.0,2195.4 982.3,2195.9 984.5,2196.4 986.8,2196.9 989.0,2197.4 991.2,2197.9 993.4,2198.5 995.6,2199.0 997.8,2199.5 1000.0,2200.0 1002.1,2200.5 1004.3,2201.0 1006.4,2201.6 1008.5,2202.1 1010.6,2202.6 1012.8,2203.2 1014.9,2203.7 1017.0,2204.3 1019.1,2204.8 1021.3,2205.4 1023.4,2206.0 1025.5,2206.6 1027.7,2207.1 1029.8,2207.7 1031.9,2208.3 1034.0,2208.9 1036.2,2209.5 1038.3,2210.1 1040.4,2210.7 1042.6,2211.3 1044.7,2211.9 1046.8,2212.6 1048.9,2213.2 1051.1,2213.8 1053.2,2214.4 1055.3,2215.0 1057.4,2215.6 1059.6,2216.2 1061.7,2216.8 1063.8,2217.5 1066.0,2218.1 1068.1,2218.7 1070.2,2219.3 1072.3,2219.9 1074.5,2220.5 1076.6,2221.1 1078.7,2221.7 1080.9,2222.3 1083.0,2222.9 1085.1,2223.5 1087.2,2224.1 1089.4,2224.7 1091.5,2225.2 1093.6,2225.8 1095.7,2226.4 1097.9,2226.9 1100.0,2227.5 1102.2,2228.1 1104.3,2228.6 1106.3,2229.1 1108.4,2229.6 1110.4,2230.2 1112.3,2230.6 1114.3,2231.1 1116.2,2231.6 1118.1,2232.1 1119.9,2232.5 1121.8,2233.0 1123.6,2233.4 1125.5,2233.9 1127.3,2234.3 1129.1,2234.8 1130.9,2235.2 1132.7,2235.6 1134.6,2236.1 1136.4,2236.5 1138.2,2236.9 1140.1,2237.4 1142.0,2237.8 1143.9,2238.3 1145.8,2238.7 1147.7,2239.2 1149.7,2239.7 1151.7,2240.1 1153.8,2240.6 1155.8,2241.1 1158.0,2241.6 1160.1,2242.2 1162.3,2242.7 1164.6,2243.2 1166.9,2243.8 1169.3,2244.4 1171.7,2245.0 1174.2,2245.6 1176.8,2246.2 1179.4,2246.9 1182.1,2247.5 1184.9,2248.2 1187.8,2248.9 1190.7,2249.7 1193.7,2250.4 1196.8,2251.2 1200.0,2252.0 1201.6,2252.4 1203.3,2252.8 1205.0,2253.3 1206.7,2253.7 1208.4,2254.1 1210.2,2254.6 1212.0,2255.1 1213.8,2255.5 1215.6,2256.0 1217.5,2256.5 1219.4,2257.0 1221.3,2257.4 1223.2,2257.9 1225.2,2258.4 1227.1,2259.0 1229.1,2259.5 1231.1,2260.0 1233.2,2260.5 1235.2,2261.0 1237.3,2261.6 1239.3,2262.1 1241.4,2262.7 1243.5,2263.2 1245.7,2263.8 1247.8,2264.3 1250.0,2264.9 1252.1,2265.4 1254.3,2266.0 1256.5,2266.6 1258.7,2267.2 1261.0,2267.7 1263.2,2268.3 1265.4,2268.9 1267.7,2269.5 1270.0,2270.1 1272.2,2270.7 1274.5,2271.3 1276.8,2271.9 1279.1,2272.5 1281.4,2273.1 1283.7,2273.7 1286.0,2274.3 1288.4,2274.9 1290.7,2275.5 1293.0,2276.1 1295.4,2276.7 1297.7,2277.3 1300.1,2277.9 1302.4,2278.5 1304.8,2279.1 1307.1,2279.7 1309.5,2280.3 1311.8,2281.0 1314.2,2281.6 1316.5,2282.2 1318.9,2282.8 1321.2,2283.4 1323.5,2284.0 1325.9,2284.6 1328.2,2285.2 1330.6,2285.8 1332.9,2286.4 1335.2,2287.0 1337.5,2287.6 1339.8,2288.2 1342.1,2288.8 1344.4,2289.4 1346.7,2290.0 1349.0,2290.6 1351.3,2291.2 1353.6,2291.7 1355.8,2292.3 1358.1,2292.9 1360.3,2293.5 1362.5,2294.0 1364.7,2294.6 1366.9,2295.2 1369.1,2295.7 1371.3,2296.3 1373.4,2296.8 1375.6,2297.4 1377.7,2297.9 1379.8,2298.4 1381.9,2299.0 1384.0,2299.5 1386.0,2300.0 1388.1,2300.5 1390.1,2301.0 1392.1,2301.5 1394.1,2302.0 1396.1,2302.5 1398.0,2303.0 1400.4,2303.6 1402.8,2304.2 1405.2,2304.8 1407.6,2305.4 1410.0,2306.0 1412.4,2306.6 1414.7,2307.2 1417.1,2307.8 1419.4,2308.4 1421.7,2309.0 1424.0,2309.5 1426.3,2310.1 1428.5,2310.7 1430.8,2311.3 1433.1,2311.8 1435.3,2312.4 1437.5,2313.0 1439.8,2313.6 1442.0,2314.1 1444.2,2314.7 1446.4,2315.2 1448.6,2315.8 1450.7,2316.4 1452.9,2316.9 1455.1,2317.5 1457.2,2318.0 1459.4,2318.6 1461.5,2319.1 1463.7,2319.6 1465.8,2320.2 1467.9,2320.7 1470.0,2321.2 1472.1,2321.8 1474.2,2322.3 1476.4,2322.8 1478.5,2323.3 1480.5,2323.9 1482.6,2324.4 1484.7,2324.9 1486.8,2325.4 1488.9,2325.9 1491.0,2326.4 1493.1,2326.9 1495.1,2327.4 1497.2,2327.9 1499.3,2328.4 1501.4,2328.9 1503.4,2329.4 1505.5,2329.8 1507.6,2330.3 1509.7,2330.8 1511.7,2331.3 1513.8,2331.7 1515.9,2332.2 1518.0,2332.7 1520.0,2333.1 1522.1,2333.6 1524.2,2334.1 1526.3,2334.5 1528.4,2335.0 1530.5,2335.4 1532.6,2335.8 1534.7,2336.3 1536.8,2336.7 1538.9,2337.2 1541.0,2337.6 1543.1,2338.0 1545.3,2338.4 1547.4,2338.9 1549.5,2339.3 1551.7,2339.7 1553.8,2340.1 1556.0,2340.5 1558.2,2340.9 1560.4,2341.3 1562.6,2341.7 1564.9,2342.1 1567.1,2342.5 1569.3,2342.9 1571.6,2343.3 1573.8,2343.6 1576.1,2344.0 1578.4,2344.4 1580.7,2344.7 1582.9,2345.1 1585.2,2345.5 1587.5,2345.8 1589.8,2346.2 1592.1,2346.5 1594.4,2346.9 1596.7,2347.2 1599.1,2347.5 1601.4,2347.9 1603.7,2348.2 1606.0,2348.5 1608.3,2348.8 1610.6,2349.2 1612.9,2349.5 1615.3,2349.8 1617.6,2350.1 1619.9,2350.4 1622.2,2350.7 1624.5,2351.0 1626.8,2351.3 1629.1,2351.6 1631.4,2351.9 1633.7,2352.2 1636.0,2352.5 1638.3,2352.8 1640.6,2353.1 1642.9,2353.3 1645.1,2353.6 1647.4,2353.9 1649.7,2354.2 1651.9,2354.5 1654.2,2354.7 1656.4,2355.0 1658.6,2355.3 1660.9,2355.5 1663.1,2355.8 1665.3,2356.1 1667.4,2356.3 1669.6,2356.6 1671.8,2356.8 1674.0,2357.1 1676.1,2357.3 1678.2,2357.6 1680.3,2357.8 1682.5,2358.1 1684.5,2358.4 1686.6,2358.6 1688.7,2358.8 1690.7,2359.1 1692.8,2359.3 1694.8,2359.6 1696.8,2359.8 1698.8,2360.1 1700.7,2360.3 1702.7,2360.6 1704.6,2360.8 1706.5,2361.0 1708.4,2361.3 1710.3,2361.5 1712.2,2361.8 1714.0,2362.0 1716.7,2362.4 1719.4,2362.7 1722.1,2363.1 1724.8,2363.4 1727.4,2363.7 1730.0,2364.1 1732.6,2364.4 1735.1,2364.7 1737.7,2365.1 1740.2,2365.4 1742.7,2365.7 1745.1,2366.0 1747.6,2366.3 1750.0,2366.6 1752.4,2366.9 1754.8,2367.2 1757.1,2367.5 1759.4,2367.8 1761.7,2368.1 1764.0,2368.4 1766.3,2368.7 1768.5,2368.9 1770.7,2369.2 1772.9,2369.5 1775.1,2369.8 1777.2,2370.0 1779.3,2370.3 1781.4,2370.5 1783.5,2370.8 1785.6,2371.0 1787.6,2371.3 1789.6,2371.5 1791.6,2371.8 1793.6,2372.0 1795.5,2372.2 1797.5,2372.5 1799.4,2372.7 1801.3,2372.9 1803.1,2373.1 1805.0,2373.4 1806.8,2373.6 1808.6,2373.8 1810.4,2374.0 1812.1,2374.2 1813.9,2374.4 1815.6,2374.6 1817.3,2374.8 1819.0,2375.0 1822.2,2375.4 1825.3,2375.7 1828.3,2376.1 1831.3,2376.4 1834.2,2376.7 1837.0,2377.0 1839.7,2377.3 1842.4,2377.6 1845.0,2377.8 1847.5,2378.1 1849.9,2378.3 1852.3,2378.6 1854.5,2378.8 1856.7,2379.0 1858.8,2379.2 1860.8,2379.4 1862.7,2379.6 1864.5,2379.7 1866.3,2379.9 1867.9,2380.0 1869.5,2380.2 1870.9,2380.3 1872.3,2380.5 1873.5,2380.6 1874.7,2380.7" fill="none" stroke="none" marker-start="url(#md)" marker-mid="url(#md)" marker-end="url(#md)"/>
<polyline points="427.0,2137.0 428.2,2137.0 429.6,2137.1 431.1,2137.2 432.7,2137.2 434.5,2137.3 436.4,2137.3 438.3,2137.4 440.4,2137.5 442.6,2137.6 444.9,2137.7 447.3,2137.8 449.7,2137.8 452.2,2137.9 454.7,2138.0 457.3,2138.1 459.9,2138.2 462.5,2138.3 465.2,2138.4 467.8,2138.5 470.5,2138.6 473.2,2138.7 475.8,2138.8 478.4,2138.9 481.0,2139.0 483.0,2139.1 485.0,2139.1 486.9,2139.2 488.9,2139.3 490.9,2139.4 492.9,2139.5 494.9,2139.5 496.9,2139.6 498.9,2139.7 500.9,2139.8 503.0,2139.9 505.1,2140.0 507.1,2140.0 509.2,2140.1 511.4,2140.2 513.5,2140.3 515.7,2140.4 517.9,2140.5 520.1,2140.5 522.4,2140.6 524.7,2140.7 527.0,2140.8 529.4,2140.9 531.8,2141.0 534.3,2141.0 536.8,2141.1 539.3,2141.2 541.9,2141.3 544.6,2141.4 547.3,2141.4 550.0,2141.5 551.9,2141.5 553.8,2141.6 555.8,2141.6 557.8,2141.7 559.9,2141.7 561.9,2141.8 564.0,2141.8 566.2,2141.9 568.4,2141.9 570.6,2141.9 572.8,2142.0 575.1,2142.0 577.3,2142.0 579.6,2142.1 581.9,2142.1 584.3,2142.2 586.6,2142.2 589.0,2142.2 591.3,2142.3 593.7,2142.3 596.1,2142.3 598.5,2142.4 600.9,2142.4 603.3,2142.4 605.7,2142.5 608.1,2142.5 610.5,2142.6 612.9,2142.6 615.2,2142.6 617.6,2142.7 620.0,2142.7 622.3,2142.8 624.7,2142.8 627.0,2142.8 629.3,2142.9 631.6,2142.9 633.8,2143.0 636.1,2143.0 638.3,2143.1 640.5,2143.1 642.7,2143.2 644.8,2143.3 646.9,2143.3 649.0,2143.4 651.0,2143.4 653.0,2143.5 655.6,2143.6 658.1,2143.7 660.7,2143.8 663.2,2143.9 665.7,2144.0 668.1,2144.0 670.6,2144.1 673.0,2144.2 675.4,2144.3 677.8,2144.5 680.1,2144.6 682.5,2144.7 684.8,2144.8 687.1,2144.9 689.4,2145.0 691.6,2145.1 693.9,2145.2 696.1,2145.3 698.3,2145.5 700.5,2145.6 702.7,2145.7 704.9,2145.8 707.0,2145.9 709.2,2146.1 711.3,2146.2 713.4,2146.3 715.5,2146.4 717.6,2146.6 719.7,2146.7 721.8,2146.8 723.8,2147.0 725.9,2147.1 727.9,2147.2 730.0,2147.4 732.0,2147.5 734.5,2147.7 737.1,2147.8 739.6,2148.0 742.1,2148.2 744.6,2148.4 747.2,2148.6 749.6,2148.8 752.1,2149.0 754.6,2149.2 757.0,2149.4 759.5,2149.6 761.9,2149.8 764.2,2150.0 766.6,2150.2 768.9,2150.4 771.1,2150.6 773.4,2150.8 775.6,2151.0 777.8,2151.2 779.9,2151.4 781.9,2151.6 784.0,2151.8 785.9,2152.0 787.9,2152.2 789.7,2152.4 791.6,2152.6 793.3,2152.8 795.0,2153.0 798.3,2153.4 801.0,2153.8 803.3,2154.1 805.2,2154.4 806.9,2154.8 808.5,2155.1 810.0,2155.4 811.7,2155.8 813.5,2156.1 815.7,2156.5 818.2,2157.0 821.3,2157.5 825.0,2158.0 826.6,2158.2 828.2,2158.4 829.9,2158.6 831.6,2158.8 833.4,2159.0 835.2,2159.2 837.1,2159.4 839.0,2159.7 841.0,2159.9 843.0,2160.1 845.0,2160.3 847.1,2160.5 849.3,2160.7 851.4,2160.9 853.6,2161.2 855.9,2161.4 858.1,2161.7 860.4,2161.9 862.7,2162.2 865.1,2162.4 867.5,2162.7 869.9,2163.0 872.3,2163.3 874.7,2163.6 877.2,2163.9 879.7,2164.3 882.2,2164.6 884.7,2165.0 887.2,2165.4 889.8,2165.8 892.3,2166.2 894.9,2166.6 897.4,2167.0 900.0,2167.5 901.9,2167.9 903.9,2168.2 905.8,2168.6 907.8,2169.0 909.8,2169.3 911.8,2169.7 913.9,2170.1 915.9,2170.5 918.0,2171.0 920.1,2171.4 922.2,2171.8 924.3,2172.3 926.4,2172.7 928.6,2173.1 930.8,2173.6 932.9,2174.1 935.1,2174.5 937.3,2175.0 939.5,2175.5 941.7,2176.0 944.0,2176.5 946.2,2177.0 948.4,2177.5 950.7,2178.0 952.9,2178.5 955.2,2179.0 957.4,2179.5 959.7,2180.0 962.0,2180.6 964.2,2181.1 966.5,2181.6 968.8,2182.2 971.0,2182.7 973.3,2183.3 975.5,2183.8 977.8,2184.4 980.0,2184.9 982.3,2185.5 984.5,2186.0 986.8,2186.6 989.0,2187.2 991.2,2187.7 993.4,2188.3 995.6,2188.9 997.8,2189.4 1000.0,2190.0 1002.1,2190.6 1004.3,2191.1 1006.4,2191.7 1008.5,2192.3 1010.6,2192.9 1012.8,2193.5 1014.9,2194.1 1017.0,2194.7 1019.1,2195.3 1021.3,2195.9 1023.4,2196.6 1025.5,2197.2 1027.7,2197.8 1029.8,2198.5 1031.9,2199.1 1034.0,2199.8 1036.2,2200.4 1038.3,2201.1 1040.4,2201.7 1042.6,2202.4 1044.7,2203.1 1046.8,2203.7 1048.9,2204.4 1051.1,2205.1 1053.2,2205.7 1055.3,2206.4 1057.4,2207.1 1059.6,2207.7 1061.7,2208.4 1063.8,2209.1 1066.0,2209.7 1068.1,2210.4 1070.2,2211.1 1072.3,2211.7 1074.5,2212.4 1076.6,2213.0 1078.7,2213.7 1080.9,2214.3 1083.0,2215.0 1085.1,2215.6 1087.2,2216.3 1089.4,2216.9 1091.5,2217.5 1093.6,2218.2 1095.7,2218.8 1097.9,2219.4 1100.0,2220.0 1102.1,2220.6 1104.2,2221.2 1106.2,2221.8 1108.2,2222.3 1110.1,2222.9 1112.1,2223.4 1114.0,2223.9 1115.8,2224.5 1117.7,2225.0 1119.5,2225.5 1121.3,2226.0 1123.2,2226.5 1124.9,2227.0 1126.7,2227.5 1128.5,2227.9 1130.3,2228.4 1132.1,2228.9 1133.9,2229.4 1135.7,2229.9 1137.5,2230.3 1139.3,2230.8 1141.1,2231.3 1142.9,2231.8 1144.8,2232.3 1146.7,2232.8 1148.6,2233.3 1150.6,2233.8 1152.5,2234.4 1154.6,2234.9 1156.6,2235.4 1158.7,2236.0 1160.8,2236.6 1163.0,2237.1 1165.2,2237.7 1167.5,2238.3 1169.9,2239.0 1172.3,2239.6 1174.7,2240.2 1177.2,2240.9 1179.8,2241.6 1182.5,2242.3 1185.2,2243.0 1188.0,2243.8 1190.9,2244.6 1193.8,2245.3 1196.9,2246.2 1200.0,2247.0 1201.6,2247.4 1203.3,2247.9 1204.9,2248.3 1206.6,2248.8 1208.3,2249.2 1210.1,2249.7 1211.9,2250.2 1213.6,2250.7 1215.5,2251.2 1217.3,2251.7 1219.2,2252.2 1221.0,2252.7 1222.9,2253.2 1224.9,2253.7 1226.8,2254.2 1228.8,2254.8 1230.8,2255.3 1232.8,2255.8 1234.8,2256.4 1236.8,2256.9 1238.9,2257.5 1240.9,2258.0 1243.0,2258.6 1245.1,2259.2 1247.2,2259.7 1249.4,2260.3 1251.5,2260.9 1253.7,2261.5 1255.8,2262.1 1258.0,2262.7 1260.2,2263.3 1262.4,2263.9 1264.6,2264.5 1266.9,2265.1 1269.1,2265.7 1271.4,2266.3 1273.6,2266.9 1275.9,2267.5 1278.1,2268.1 1280.4,2268.7 1282.7,2269.3 1285.0,2270.0 1287.3,2270.6 1289.6,2271.2 1291.9,2271.8 1294.2,2272.4 1296.5,2273.1 1298.9,2273.7 1301.2,2274.3 1303.5,2274.9 1305.8,2275.6 1308.1,2276.2 1310.5,2276.8 1312.8,2277.4 1315.1,2278.1 1317.4,2278.7 1319.8,2279.3 1322.1,2279.9 1324.4,2280.6 1326.7,2281.2 1329.0,2281.8 1331.3,2282.4 1333.6,2283.0 1335.9,2283.6 1338.2,2284.2 1340.5,2284.9 1342.8,2285.5 1345.1,2286.1 1347.3,2286.7 1349.6,2287.3 1351.8,2287.9 1354.1,2288.5 1356.3,2289.1 1358.5,2289.6 1360.7,2290.2 1362.9,2290.8 1365.1,2291.4 1367.3,2292.0 1369.4,2292.5 1371.6,2293.1 1373.7,2293.7 1375.8,2294.2 1377.9,2294.8 1380.0,2295.3 1382.1,2295.9 1384.1,2296.4 1386.2,2296.9 1388.2,2297.5 1390.2,2298.0 1392.2,2298.5 1394.1,2299.0 1396.1,2299.5 1398.0,2300.0 1400.4,2300.6 1402.8,2301.3 1405.2,2301.9 1407.6,2302.5 1410.0,2303.1 1412.4,2303.7 1414.7,2304.4 1417.1,2305.0 1419.4,2305.6 1421.7,2306.2 1424.0,2306.8 1426.3,2307.4 1428.5,2308.0 1430.8,2308.6 1433.1,2309.2 1435.3,2309.8 1437.5,2310.4 1439.8,2311.0 1442.0,2311.5 1444.2,2312.1 1446.4,2312.7 1448.6,2313.3 1450.7,2313.9 1452.9,2314.4 1455.1,2315.0 1457.2,2315.6 1459.4,2316.1 1461.5,2316.7 1463.7,2317.3 1465.8,2317.8 1467.9,2318.4 1470.0,2318.9 1472.1,2319.5 1474.2,2320.0 1476.4,2320.6 1478.5,2321.1 1480.5,2321.6 1482.6,2322.2 1484.7,2322.7 1486.8,2323.2 1488.9,2323.8 1491.0,2324.3 1493.1,2324.8 1495.1,2325.3 1497.2,2325.8 1499.3,2326.4 1501.4,2326.9 1503.4,2327.4 1505.5,2327.9 1507.6,2328.4 1509.7,2328.9 1511.7,2329.4 1513.8,2329.9 1515.9,2330.3 1518.0,2330.8 1520.0,2331.3 1522.1,2331.8 1524.2,2332.3 1526.3,2332.7 1528.4,2333.2 1530.5,2333.7 1532.6,2334.1 1534.7,2334.6 1536.8,2335.0 1538.9,2335.5 1541.0,2335.9 1543.1,2336.4 1545.3,2336.8 1547.4,2337.3 1549.5,2337.7 1551.7,2338.1 1553.8,2338.6 1556.0,2339.0 1558.2,2339.4 1560.4,2339.9 1562.6,2340.3 1564.9,2340.7 1567.1,2341.1 1569.3,2341.5 1571.6,2341.9 1573.8,2342.3 1576.1,2342.7 1578.4,2343.1 1580.7,2343.5 1582.9,2343.9 1585.2,2344.3 1587.5,2344.6 1589.8,2345.0 1592.1,2345.4 1594.4,2345.7 1596.7,2346.1 1599.1,2346.5 1601.4,2346.8 1603.7,2347.2 1606.0,2347.5 1608.3,2347.9 1610.6,2348.2 1612.9,2348.6 1615.3,2348.9 1617.6,2349.2 1619.9,2349.6 1622.2,2349.9 1624.5,2350.2 1626.8,2350.5 1629.1,2350.9 1631.4,2351.2 1633.7,2351.5 1636.0,2351.8 1638.3,2352.1 1640.6,2352.4 1642.9,2352.7 1645.1,2353.0 1647.4,2353.3 1649.7,2353.6 1651.9,2353.9 1654.2,2354.2 1656.4,2354.5 1658.6,2354.8 1660.9,2355.1 1663.1,2355.4 1665.3,2355.7 1667.4,2355.9 1669.6,2356.2 1671.8,2356.5 1674.0,2356.8 1676.1,2357.1 1678.2,2357.3 1680.3,2357.6 1682.5,2357.9 1684.5,2358.1 1686.6,2358.4 1688.7,2358.7 1690.7,2358.9 1692.8,2359.2 1694.8,2359.5 1696.8,2359.7 1698.8,2360.0 1700.7,2360.2 1702.7,2360.5 1704.6,2360.7 1706.5,2361.0 1708.4,2361.2 1710.3,2361.5 1712.2,2361.7 1714.0,2362.0 1716.7,2362.4 1719.4,2362.7 1722.1,2363.1 1724.8,2363.5 1727.4,2363.8 1730.0,2364.2 1732.6,2364.5 1735.1,2364.8 1737.7,2365.2 1740.2,2365.5 1742.7,2365.8 1745.1,2366.1 1747.6,2366.4 1750.0,2366.7 1752.4,2367.0 1754.8,2367.3 1757.1,2367.6 1759.4,2367.9 1761.7,2368.2 1764.0,2368.5 1766.3,2368.8 1768.5,2369.0 1770.7,2369.3 1772.9,2369.6 1775.1,2369.8 1777.2,2370.1 1779.3,2370.4 1781.4,2370.6 1783.5,2370.9 1785.6,2371.1 1787.6,2371.3 1789.6,2371.6 1791.6,2371.8 1793.6,2372.0 1795.5,2372.3 1797.5,2372.5 1799.4,2372.7 1801.3,2372.9 1803.1,2373.2 1805.0,2373.4 1806.8,2373.6 1808.6,2373.8 1810.4,2374.0 1812.1,2374.2 1813.9,2374.4 1815.6,2374.6 1817.3,2374.8 1819.0,2375.0 1822.2,2375.4 1825.3,2375.7 1828.3,2376.1 1831.3,2376.4 1834.2,2376.7 1837.0,2377.0 1839.7,2377.3 1842.4,2377.6 1845.0,2377.8 1847.5,2378.1 1849.9,2378.3 1852.3,2378.6 1854.5,2378.8 1856.7,2379.0 1858.8,2379.2 1860.8,2379.4 1862.7,2379.6 1864.5,2379.7 1866.3,2379.9 1867.9,2380.0 1869.5,2380.2 1870.9,2380.3 1872.3,2380.5 1873.5,2380.6 1874.7,2380.7" fill="none" stroke="none" marker-start="url(#md)" marker-mid="url(#md)" marker-end="url(#md)"/>
<polyline points="428.5,2426.0 429.3,2425.2 430.2,2424.2 431.2,2423.2 432.3,2421.9 433.7,2420.5 435.4,2418.7 437.5,2416.7 439.9,2414.2 442.8,2411.4 443.9,2410.3 445.2,2409.1 446.5,2407.8 447.9,2406.5 449.3,2405.0 450.8,2403.5 452.4,2402.0 454.1,2400.4 455.8,2398.8 457.5,2397.1 459.2,2395.4 461.0,2393.6 462.8,2391.9 464.6,2390.1 466.4,2388.4 468.3,2386.6 470.1,2384.9 471.9,2383.2 473.7,2381.5 475.4,2379.8 477.2,2378.1 478.8,2376.5 480.5,2375.0 482.1,2373.5 483.6,2372.1 485.1,2370.7 487.0,2368.9 488.9,2367.2 490.8,2365.6 492.6,2364.0 494.4,2362.4 496.1,2360.9 497.8,2359.4 499.5,2358.0 501.2,2356.6 502.8,2355.2 504.5,2353.8 506.1,2352.4 507.7,2351.1 509.4,2349.7 511.0,2348.3 512.7,2346.9 514.3,2345.4 516.0,2344.0 517.7,2342.5 519.4,2341.0 521.1,2339.5 522.8,2337.9 524.5,2336.4 526.3,2334.9 528.0,2333.4 529.7,2331.8 531.4,2330.3 533.1,2328.7 534.8,2327.2 536.5,2325.7 538.2,2324.1 539.9,2322.6 541.6,2321.0 543.4,2319.5 545.1,2317.9 546.8,2316.4 548.5,2314.8 550.2,2313.3 551.9,2311.8 553.6,2310.2 555.3,2308.6 557.1,2307.0 558.8,2305.4 560.5,2303.8 562.2,2302.2 563.9,2300.6 565.6,2299.0 567.4,2297.4 569.1,2295.9 570.8,2294.3 572.5,2292.8 574.2,2291.2 575.9,2289.7 577.7,2288.2 579.4,2286.8 581.1,2285.4 582.8,2284.0 584.6,2282.6 586.5,2281.1 588.4,2279.7 590.4,2278.2 592.3,2276.8 594.3,2275.3 596.2,2273.9 598.2,2272.6 600.1,2271.2 602.0,2269.9 603.9,2268.6 605.7,2267.4 607.5,2266.3 609.3,2265.2 610.9,2264.1 612.5,2263.2 614.0,2262.3 615.4,2261.5 618.5,2259.9 621.1,2258.7 623.2,2258.0 625.2,2257.6 627.1,2257.3 629.2,2257.1 631.6,2256.8 633.6,2256.5 635.5,2256.2 637.3,2255.9 639.3,2255.7 641.3,2255.5 643.6,2255.5 646.2,2255.5 649.3,2255.7 652.8,2256.0 654.5,2256.2 656.5,2256.5 658.6,2256.8 660.9,2257.1 663.3,2257.5 665.8,2257.9 668.4,2258.3 671.0,2258.8 673.7,2259.2 676.4,2259.7 679.1,2260.2 681.7,2260.7 684.3,2261.1 686.8,2261.6 689.2,2262.0 691.5,2262.5 693.6,2262.8 695.5,2263.2 697.2,2263.5 698.7,2263.8 700.0,2264.0" fill="none" stroke="none" marker-start="url(#ms)" marker-mid="url(#ms)" marker-end="url(#ms)"/>
<polyline points="434.0,2236.0 434.6,2236.3 434.7,2236.6 435.8,2237.0 439.1,2237.5 446.0,2238.0 447.4,2238.1 448.8,2238.1 450.4,2238.2 452.0,2238.3 453.7,2238.4 455.6,2238.4 457.5,2238.5 459.4,2238.6 461.5,2238.7 463.6,2238.7 465.8,2238.8 468.0,2238.9 470.3,2239.0 472.6,2239.1 475.0,2239.1 477.4,2239.2 479.9,2239.3 482.4,2239.4 484.9,2239.5 487.4,2239.6 490.0,2239.6 492.5,2239.7 495.1,2239.8 497.7,2239.9 500.3,2240.0 502.8,2240.1 505.4,2240.2 507.9,2240.3 510.5,2240.4 513.0,2240.5 515.4,2240.6 517.9,2240.7 520.3,2240.8 522.7,2240.9 525.0,2241.0 527.2,2241.1 529.4,2241.2 531.7,2241.3 533.9,2241.4 536.2,2241.5 538.6,2241.6 540.9,2241.7 543.2,2241.9 545.6,2242.0 548.0,2242.1 550.4,2242.2 552.8,2242.3 555.2,2242.4 557.5,2242.5 559.9,2242.7 562.3,2242.8 564.7,2242.9 567.1,2243.0 569.4,2243.2 571.8,2243.3 574.1,2243.4 576.4,2243.5 578.7,2243.7 581.0,2243.8 583.2,2243.9 585.4,2244.0 587.6,2244.2 589.7,2244.3 591.8,2244.4 593.9,2244.6 595.9,2244.7 597.9,2244.8 599.8,2245.0 601.7,2245.1 603.5,2245.2 605.3,2245.4 607.0,2245.5 610.2,2245.8 613.1,2246.0 615.9,2246.3 618.5,2246.5 620.9,2246.7 623.2,2247.0 625.4,2247.2 627.5,2247.5 629.5,2247.7 631.5,2248.0 633.4,2248.2 635.3,2248.5 637.2,2248.8 639.2,2249.1 641.2,2249.5 643.2,2249.8 645.4,2250.2 647.6,2250.6 650.0,2251.0 652.0,2251.4 654.1,2251.7 656.2,2252.1 658.3,2252.5 660.4,2252.9 662.5,2253.4 664.7,2253.8 666.9,2254.2 669.1,2254.7 671.3,2255.2 673.5,2255.6 675.7,2256.1 677.9,2256.6 680.1,2257.1 682.3,2257.6 684.6,2258.1 686.8,2258.7 689.0,2259.2 691.2,2259.8 693.4,2260.3 695.6,2260.9 697.8,2261.4 700.0,2262.0 702.2,2262.6 704.3,2263.2 706.5,2263.8 708.7,2264.4 710.9,2265.1 713.0,2265.7 715.2,2266.4 717.4,2267.0 719.6,2267.7 721.7,2268.4 723.9,2269.1 726.1,2269.8 728.3,2270.5 730.4,2271.2 732.6,2271.9 734.8,2272.6 737.0,2273.3 739.1,2274.0 741.3,2274.7 743.5,2275.4 745.7,2276.1 747.8,2276.8 750.0,2277.5 752.2,2278.2 754.3,2278.9 756.5,2279.6 758.7,2280.3 760.9,2281.0 763.0,2281.7 765.2,2282.4 767.4,2283.0 769.6,2283.7 771.7,2284.4 773.9,2285.1 776.1,2285.9 778.3,2286.6 780.4,2287.3 782.6,2288.0 784.8,2288.7 787.0,2289.4 789.1,2290.1 791.3,2290.8 793.5,2291.6 795.7,2292.3 797.8,2293.0 800.0,2293.8 802.1,2294.5 804.2,2295.2 806.2,2295.9 808.3,2296.6 810.4,2297.3 812.5,2298.1 814.6,2298.8 816.7,2299.5 818.8,2300.3 820.8,2301.0 822.9,2301.8 825.0,2302.5 827.1,2303.2 829.2,2304.0 831.2,2304.7 833.3,2305.5 835.4,2306.2 837.5,2306.9 839.6,2307.7 841.7,2308.4 843.8,2309.1 845.8,2309.8 847.9,2310.5 850.0,2311.2 852.1,2312.0 854.2,2312.7 856.2,2313.4 858.1,2314.1 859.9,2314.8 861.8,2315.4 863.6,2316.1 865.4,2316.7 867.2,2317.4 869.1,2318.1 870.9,2318.7 872.8,2319.4 874.8,2320.1 876.8,2320.7 878.9,2321.4 881.1,2322.1 883.4,2322.8 885.8,2323.6 888.3,2324.3 891.0,2325.1 893.8,2325.9 896.8,2326.7 900.0,2327.5 901.7,2327.9 903.4,2328.4 905.1,2328.8 906.9,2329.2 908.7,2329.7 910.6,2330.1 912.5,2330.6 914.4,2331.1 916.4,2331.5 918.4,2332.0 920.5,2332.5 922.5,2333.0 924.6,2333.4 926.8,2333.9 928.9,2334.4 931.1,2334.9 933.3,2335.4 935.5,2335.9 937.7,2336.4 940.0,2336.9 942.3,2337.4 944.6,2337.9 946.9,2338.4 949.2,2338.9 951.5,2339.5 953.9,2340.0 956.2,2340.5 958.5,2341.0 960.9,2341.5 963.2,2342.0 965.6,2342.5 968.0,2343.0 970.3,2343.6 972.7,2344.1 975.0,2344.6 977.3,2345.1 979.7,2345.6 982.0,2346.1 984.3,2346.6 986.6,2347.1 988.9,2347.6 991.1,2348.1 993.4,2348.6 995.6,2349.0 997.8,2349.5 1000.0,2350.0 1002.2,2350.5 1004.3,2351.0 1006.5,2351.4 1008.7,2351.9 1010.9,2352.4 1013.0,2352.9 1015.2,2353.3 1017.4,2353.8 1019.6,2354.3 1021.7,2354.8 1023.9,2355.2 1026.1,2355.7 1028.3,2356.2 1030.4,2356.7 1032.6,2357.2 1034.8,2357.6 1037.0,2358.1 1039.1,2358.6 1041.3,2359.1 1043.5,2359.5 1045.7,2360.0 1047.8,2360.5 1050.0,2360.9 1052.2,2361.4 1054.3,2361.9 1056.5,2362.3 1058.7,2362.8 1060.9,2363.3 1063.0,2363.7 1065.2,2364.2 1067.4,2364.6 1069.6,2365.1 1071.7,2365.6 1073.9,2366.0 1076.1,2366.5 1078.3,2366.9 1080.4,2367.3 1082.6,2367.8 1084.8,2368.2 1087.0,2368.7 1089.1,2369.1 1091.3,2369.5 1093.5,2370.0 1095.7,2370.4 1097.8,2370.8 1100.0,2371.2 1102.2,2371.7 1104.4,2372.1 1106.6,2372.5 1108.8,2372.9 1111.1,2373.4 1113.3,2373.8 1115.6,2374.2 1117.9,2374.6 1120.2,2375.1 1122.5,2375.5 1124.8,2375.9 1127.1,2376.3 1129.4,2376.7 1131.7,2377.2 1134.0,2377.6 1136.4,2378.0 1138.7,2378.4 1141.0,2378.8 1143.3,2379.2 1145.6,2379.6 1147.9,2380.0 1150.2,2380.4 1152.5,2380.8 1154.8,2381.2 1157.0,2381.6 1159.3,2382.0 1161.5,2382.4 1163.8,2382.7 1166.0,2383.1 1168.2,2383.5 1170.4,2383.9 1172.5,2384.2 1174.6,2384.6 1176.8,2384.9 1178.9,2385.3 1180.9,2385.6 1183.0,2386.0 1185.0,2386.3 1187.0,2386.6 1188.9,2387.0 1190.9,2387.3 1192.8,2387.6 1194.6,2387.9 1196.4,2388.2 1198.2,2388.5 1200.0,2388.8 1202.9,2389.2 1205.5,2389.6 1208.0,2390.0 1210.3,2390.4 1212.5,2390.7 1214.5,2391.0 1216.5,2391.3 1218.3,2391.5 1220.1,2391.8 1221.8,2392.0 1223.5,2392.2 1225.1,2392.5 1226.8,2392.7 1228.5,2392.9 1230.2,2393.1 1231.9,2393.3 1233.8,2393.6 1235.7,2393.8 1237.7,2394.1 1239.9,2394.3 1242.2,2394.6 1244.7,2394.9 1247.3,2395.3 1250.1,2395.7 1253.2,2396.1 1256.5,2396.5 1260.0,2397.0 1261.6,2397.2 1263.2,2397.4 1264.9,2397.7 1266.6,2397.9 1268.3,2398.2 1270.0,2398.4 1271.8,2398.7 1273.6,2398.9 1275.4,2399.2 1277.3,2399.5 1279.2,2399.7 1281.1,2400.0 1283.1,2400.3 1285.0,2400.6 1287.0,2400.9 1289.1,2401.2 1291.1,2401.5 1293.2,2401.8 1295.2,2402.1 1297.4,2402.4 1299.5,2402.7 1301.6,2403.0 1303.8,2403.3 1306.0,2403.7 1308.2,2404.0 1310.4,2404.3 1312.6,2404.6 1314.9,2405.0 1317.2,2405.3 1319.4,2405.6 1321.7,2405.9 1324.0,2406.3 1326.3,2406.6 1328.7,2406.9 1331.0,2407.3 1333.4,2407.6 1335.7,2407.9 1338.1,2408.3 1340.5,2408.6 1342.8,2408.9 1345.2,2409.3 1347.6,2409.6 1350.0,2409.9 1352.4,2410.3 1354.8,2410.6 1357.2,2410.9 1359.7,2411.2 1362.1,2411.6 1364.5,2411.9 1366.9,2412.2 1369.3,2412.5 1371.7,2412.8 1374.1,2413.1 1376.6,2413.4 1379.0,2413.7 1381.4,2414.0 1383.8,2414.3 1386.1,2414.6 1388.5,2414.9 1390.9,2415.2 1393.3,2415.5 1395.6,2415.7 1398.0,2416.0 1400.1,2416.2 1402.1,2416.5 1404.2,2416.7 1406.3,2416.9 1408.4,2417.2 1410.5,2417.4 1412.6,2417.6 1414.7,2417.8 1416.8,2418.1 1418.9,2418.3 1421.0,2418.5 1423.2,2418.7 1425.3,2418.9 1427.5,2419.2 1429.6,2419.4 1431.8,2419.6 1433.9,2419.8 1436.1,2420.0 1438.3,2420.3 1440.4,2420.5 1442.6,2420.7 1444.8,2420.9 1447.0,2421.1 1449.2,2421.3 1451.4,2421.5 1453.6,2421.7 1455.8,2421.9 1458.0,2422.2 1460.2,2422.4 1462.4,2422.6 1464.6,2422.8 1466.9,2423.0 1469.1,2423.2 1471.3,2423.4 1473.5,2423.6 1475.8,2423.8 1478.0,2424.0 1480.2,2424.2 1482.4,2424.4 1484.7,2424.6 1486.9,2424.8 1489.2,2425.0 1491.4,2425.2 1493.6,2425.4 1495.9,2425.6 1498.1,2425.7 1500.4,2425.9 1502.6,2426.1 1504.8,2426.3 1507.1,2426.5 1509.3,2426.7 1511.6,2426.9 1513.8,2427.1 1516.0,2427.3 1518.3,2427.4 1520.5,2427.6 1522.7,2427.8 1525.0,2428.0 1527.2,2428.2 1529.4,2428.4 1531.7,2428.5 1533.9,2428.7 1536.1,2428.9 1538.3,2429.1 1540.6,2429.3 1542.8,2429.4 1545.0,2429.6 1547.2,2429.8 1549.4,2430.0 1551.6,2430.2 1553.8,2430.3 1556.0,2430.5 1558.2,2430.7 1560.5,2430.8 1562.7,2431.0 1564.9,2431.2 1567.2,2431.4 1569.4,2431.5 1571.7,2431.7 1574.0,2431.9 1576.2,2432.0 1578.5,2432.2 1580.7,2432.4 1583.0,2432.5 1585.3,2432.7 1587.6,2432.9 1589.8,2433.0 1592.1,2433.2 1594.4,2433.3 1596.7,2433.5 1599.0,2433.7 1601.3,2433.8 1603.5,2434.0 1605.8,2434.1 1608.1,2434.3 1610.4,2434.4 1612.7,2434.6 1615.0,2434.7 1617.3,2434.9 1619.5,2435.0 1621.8,2435.2 1624.1,2435.3 1626.4,2435.5 1628.7,2435.6 1631.0,2435.8 1633.2,2435.9 1635.5,2436.1 1637.8,2436.2 1640.0,2436.4 1642.3,2436.5 1644.6,2436.7 1646.8,2436.8 1649.1,2436.9 1651.3,2437.1 1653.6,2437.2 1655.8,2437.4 1658.1,2437.5 1660.3,2437.6 1662.5,2437.8 1664.8,2437.9 1667.0,2438.1 1669.2,2438.2 1671.4,2438.3 1673.6,2438.5 1675.8,2438.6 1678.0,2438.7 1680.2,2438.9 1682.3,2439.0 1684.5,2439.2 1686.7,2439.3 1688.8,2439.4 1691.0,2439.6 1693.1,2439.7 1695.2,2439.8 1697.4,2440.0 1699.5,2440.1 1701.6,2440.2 1703.7,2440.3 1705.8,2440.5 1707.8,2440.6 1709.9,2440.7 1712.0,2440.9 1714.0,2441.0 1716.5,2441.2 1718.9,2441.3 1721.4,2441.5 1723.9,2441.6 1726.4,2441.8 1728.9,2442.0 1731.5,2442.1 1734.0,2442.3 1736.5,2442.4 1739.1,2442.6 1741.6,2442.8 1744.2,2442.9 1746.7,2443.1 1749.3,2443.2 1751.8,2443.4 1754.4,2443.6 1756.9,2443.7 1759.4,2443.9 1762.0,2444.0 1764.5,2444.2 1767.0,2444.3 1769.5,2444.5 1772.0,2444.6 1774.5,2444.8 1777.0,2445.0 1779.4,2445.1 1781.9,2445.3 1784.3,2445.4 1786.7,2445.6 1789.1,2445.7 1791.5,2445.8 1793.8,2446.0 1796.1,2446.1 1798.5,2446.3 1800.7,2446.4 1803.0,2446.5 1805.2,2446.7 1807.5,2446.8 1809.6,2446.9 1811.8,2447.1 1813.9,2447.2 1816.0,2447.3 1818.1,2447.4 1820.1,2447.6 1822.1,2447.7 1824.0,2447.8 1826.0,2447.9 1827.8,2448.0 1829.7,2448.1 1831.5,2448.2 1833.2,2448.3 1835.0,2448.4 1836.6,2448.5 1838.3,2448.6 1839.8,2448.7 1841.4,2448.8 1842.9,2448.8 1844.3,2448.9 1845.7,2449.0 1851.4,2449.3 1856.1,2449.5 1860.1,2449.6 1863.2,2449.7 1865.8,2449.8 1867.8,2449.8 1869.3,2449.7 1870.5,2449.7 1871.5,2449.6 1872.3,2449.6 1873.1,2449.5 1874.0,2449.5 1875.0,2449.5" fill="none" stroke="none" marker-start="url(#ms)" marker-mid="url(#ms)" marker-end="url(#ms)"/>
</g>
<path d="M420.5 337.6h4.4v4.4h-4.4zM425.4 324.6h4.4v4.4h-4.4zM429.5 306.6h4.4v4.4h-4.4zM433.9 298.0h4.4v4.4h-4.4zM442.8 280.9h4.4v4.4h-4.4zM447.5 271.9h4.4v4.4h-4.4zM460.2 250.4h4.4v4.4h-4.4zM494.6 215.5h4.4v4.4h-4.4zM507.7 206.8h4.4v4.4h-4.4zM529.5 198.1h4.4v4.4h-4.4zM542.6 193.4h4.4v4.4h-4.4zM560.0 188.8h4.4v4.4h-4.4zM438.9 2262.2h3.6v3.6h-3.6zM529.6 2174.9h3.6v3.6h-3.6zM537.7 2166.8h3.6v3.6h-3.6zM629.6 2092.4h3.6v3.6h-3.6zM655.2 2070.3h3.6v3.6h-3.6zM681.9 2048.7h3.6v3.6h-3.6zM738.9 2000.5h3.6v3.6h-3.6zM791.2 1952.9h3.6v3.6h-3.6zM869.1 1880.0h3.6v3.6h-3.6zM883.1 1866.8h3.6v3.6h-3.6zM921.4 1835.4h3.6v3.6h-3.6zM946.5 1812.7h3.6v3.6h-3.6zM1024.3 1751.7h3.6v3.6h-3.6zM1041.8 1739.5h3.6v3.6h-3.6zM1057.5 1728.0h3.6v3.6h-3.6zM1073.2 1717.5h3.6v3.6h-3.6zM1111.5 1690.6h3.6v3.6h-3.6zM1125.5 1681.9h3.6v3.6h-3.6zM1138.4 1673.2h3.6v3.6h-3.6zM1169.1 1655.7h3.6v3.6h-3.6zM1177.8 1652.3h3.6v3.6h-3.6zM1293.2 1595.7h3.6v3.6h-3.6zM1306.7 1590.7h3.6v3.6h-3.6zM1329.2 1582.2h3.6v3.6h-3.6zM1390.7 1559.7h3.6v3.6h-3.6zM1447.2 1547.2h3.6v3.6h-3.6zM1468.2 1543.2h3.6v3.6h-3.6zM1550.7 1529.7h3.6v3.6h-3.6zM1633.2 1521.2h3.6v3.6h-3.6zM1780.7 1499.7h3.6v3.6h-3.6zM1859.7 1490.7h3.6v3.6h-3.6zM1877.2 1482.2h3.6v3.6h-3.6zM1885.7 1478.2h3.6v3.6h-3.6zM1894.2 1474.2h3.6v3.6h-3.6zM1903.2 1469.7h3.6v3.6h-3.6z" fill="#f2f2f2"/>
<path d="M485.7 2219.1L509.7 2197.1M604.3 2116.2L614.3 2107.0M711.3 2026.7L721.3 2017.5M745.2 1997.4L757.2 1986.4M821.3 1928.1L833.3 1917.1M1000.9 1775.4L1012.9 1764.4M1024.7 933.5L1035.7 920.5M1042.2 938.5L1053.2 925.5M1059.6 943.5L1070.6 930.5M1094.5 952.0L1105.5 939.0M1111.9 956.5L1122.9 943.5M1129.4 961.0L1140.4 948.0M1248.0 990.5L1259.0 977.5M1265.4 995.0L1276.4 982.0M1361.5 1020.5L1372.5 1007.5M1461.5 1046.5L1472.5 1033.5M1639.2 1090.2L1650.2 1077.2M454.5 951.5L465.5 938.5M443.5 972.5L454.5 959.5M431.5 996.5L442.5 983.5M1550.5 2334.0L1561.5 2321.0M1600.5 2340.9L1611.5 2327.9M1842.9 2377.8L1853.9 2364.8M484.5 883.5L495.5 896.5M664.3 2222.5L675.3 2235.5M677.1 2215.5L688.1 2228.5M689.8 2204.0L700.8 2217.0M701.5 2198.2L712.5 2211.2M738.7 2183.0L749.7 2196.0" stroke="#f4f4ff" stroke-width="2.6" fill="none"/>
<path d="M1665.7 1084.5 L1673.2 1092.5 L1665.7 1100.5 L1658.2 1092.5Z" fill="#fff"/>
<path d="M1874.7 2372.7 L1882.2 2380.7 L1874.7 2388.7 L1867.2 2380.7Z" fill="#fff"/>
<rect x="1992.5" y="1455.5" width="20" height="19" fill="#fff" stroke="#000" stroke-width="5"/>
<rect x="416.7" y="1256.2" width="1669.1" height="3.6" fill="#e9e9e9"/>
<g stroke="#131313" fill="none" stroke-linecap="butt"><rect x="419.5" y="21.5" width="1663.5" height="1230.5" stroke-width="5.3"/><rect x="419.5" y="1263.7" width="1663.5" height="1217.3" stroke-width="5.3"/><path d="M461.1 21.5V45.0M461.1 1252.0V1228.5M461.1 1263.7V1287.2M461.1 2481.0V2457.5M502.7 21.5V45.0M502.7 1252.0V1228.5M502.7 1263.7V1287.2M502.7 2481.0V2457.5M544.3 21.5V45.0M544.3 1252.0V1228.5M544.3 1263.7V1287.2M544.3 2481.0V2457.5M585.9 21.5V45.0M585.9 1252.0V1228.5M585.9 1263.7V1287.2M585.9 2481.0V2457.5M627.4 21.5V62.0M627.4 1252.0V1211.5M627.4 1263.7V1304.2M627.4 2481.0V2440.5M669.0 21.5V45.0M669.0 1252.0V1228.5M669.0 1263.7V1287.2M669.0 2481.0V2457.5M710.6 21.5V45.0M710.6 1252.0V1228.5M710.6 1263.7V1287.2M710.6 2481.0V2457.5M752.2 21.5V45.0M752.2 1252.0V1228.5M752.2 1263.7V1287.2M752.2 2481.0V2457.5M793.8 21.5V45.0M793.8 1252.0V1228.5M793.8 1263.7V1287.2M793.8 2481.0V2457.5M835.4 21.5V62.0M835.4 1252.0V1211.5M835.4 1263.7V1304.2M835.4 2481.0V2440.5M877.0 21.5V45.0M877.0 1252.0V1228.5M877.0 1263.7V1287.2M877.0 2481.0V2457.5M918.5 21.5V45.0M918.5 1252.0V1228.5M918.5 1263.7V1287.2M918.5 2481.0V2457.5M960.1 21.5V45.0M960.1 1252.0V1228.5M960.1 1263.7V1287.2M960.1 2481.0V2457.5M1001.7 21.5V45.0M1001.7 1252.0V1228.5M1001.7 1263.7V1287.2M1001.7 2481.0V2457.5M1043.3 21.5V62.0M1043.3 1252.0V1211.5M1043.3 1263.7V1304.2M1043.3 2481.0V2440.5M1084.9 21.5V45.0M1084.9 1252.0V1228.5M1084.9 1263.7V1287.2M1084.9 2481.0V2457.5M1126.5 21.5V45.0M1126.5 1252.0V1228.5M1126.5 1263.7V1287.2M1126.5 2481.0V2457.5M1168.1 21.5V45.0M1168.1 1252.0V1228.5M1168.1 1263.7V1287.2M1168.1 2481.0V2457.5M1209.7 21.5V45.0M1209.7 1252.0V1228.5M1209.7 1263.7V1287.2M1209.7 2481.0V2457.5M1251.2 21.5V62.0M1251.2 1252.0V1211.5M1251.2 1263.7V1304.2M1251.2 2481.0V2440.5M1292.8 21.5V45.0M1292.8 1252.0V1228.5M1292.8 1263.7V1287.2M1292.8 2481.0V2457.5M1334.4 21.5V45.0M1334.4 1252.0V1228.5M1334.4 1263.7V1287.2M1334.4 2481.0V2457.5M1376.0 21.5V45.0M1376.0 1252.0V1228.5M1376.0 1263.7V1287.2M1376.0 2481.0V2457.5M1417.6 21.5V45.0M1417.6 1252.0V1228.5M1417.6 1263.7V1287.2M1417.6 2481.0V2457.5M1459.2 21.5V62.0M1459.2 1252.0V1211.5M1459.2 1263.7V1304.2M1459.2 2481.0V2440.5M1500.8 21.5V45.0M1500.8 1252.0V1228.5M1500.8 1263.7V1287.2M1500.8 2481.0V2457.5M1542.4 21.5V45.0M1542.4 1252.0V1228.5M1542.4 1263.7V1287.2M1542.4 2481.0V2457.5M1584.0 21.5V45.0M1584.0 1252.0V1228.5M1584.0 1263.7V1287.2M1584.0 2481.0V2457.5M1625.5 21.5V45.0M1625.5 1252.0V1228.5M1625.5 1263.7V1287.2M1625.5 2481.0V2457.5M1667.1 21.5V62.0M1667.1 1252.0V1211.5M1667.1 1263.7V1304.2M1667.1 2481.0V2440.5M1708.7 21.5V45.0M1708.7 1252.0V1228.5M1708.7 1263.7V1287.2M1708.7 2481.0V2457.5M1750.3 21.5V45.0M1750.3 1252.0V1228.5M1750.3 1263.7V1287.2M1750.3 2481.0V2457.5M1791.9 21.5V45.0M1791.9 1252.0V1228.5M1791.9 1263.7V1287.2M1791.9 2481.0V2457.5M1833.5 21.5V45.0M1833.5 1252.0V1228.5M1833.5 1263.7V1287.2M1833.5 2481.0V2457.5M1875.1 21.5V62.0M1875.1 1252.0V1211.5M1875.1 1263.7V1304.2M1875.1 2481.0V2440.5M1916.7 21.5V45.0M1916.7 1252.0V1228.5M1916.7 1263.7V1287.2M1916.7 2481.0V2457.5M1958.2 21.5V45.0M1958.2 1252.0V1228.5M1958.2 1263.7V1287.2M1958.2 2481.0V2457.5M1999.8 21.5V45.0M1999.8 1252.0V1228.5M1999.8 1263.7V1287.2M1999.8 2481.0V2457.5M2041.4 21.5V45.0M2041.4 1252.0V1228.5M2041.4 1263.7V1287.2M2041.4 2481.0V2457.5M419.5 47.5H443.0M2083.0 47.5H2059.5M419.5 95.6H443.0M2083.0 95.6H2059.5M419.5 145.0H460.0M2083.0 145.0H2042.5M419.5 195.3H443.0M2083.0 195.3H2059.5M419.5 242.8H443.0M2083.0 242.8H2059.5M419.5 292.0H443.0M2083.0 292.0H2059.5M419.5 341.5H443.0M2083.0 341.5H2059.5M419.5 391.2H460.0M2083.0 391.2H2042.5M419.5 438.7H443.0M2083.0 438.7H2059.5M419.5 490.4H443.0M2083.0 490.4H2059.5M419.5 538.7H443.0M2083.0 538.7H2059.5M419.5 587.1H443.0M2083.0 587.1H2059.5M419.5 639.7H460.0M2083.0 639.7H2042.5M419.5 687.7H443.0M2083.0 687.7H2059.5M419.5 735.2H443.0M2083.0 735.2H2059.5M419.5 783.4H443.0M2083.0 783.4H2059.5M419.5 835.6H443.0M2083.0 835.6H2059.5M419.5 883.4H460.0M2083.0 883.4H2042.5M419.5 931.2H443.0M2083.0 931.2H2059.5M419.5 983.4H443.0M2083.0 983.4H2059.5M419.5 1031.3H443.0M2083.0 1031.3H2059.5M419.5 1079.4H443.0M2083.0 1079.4H2059.5M419.5 1131.5H460.0M2083.0 1131.5H2042.5M419.5 1179.6H443.0M2083.0 1179.6H2059.5M419.5 1227.3H443.0M2083.0 1227.3H2059.5M419.5 2442.4H443.0M2083.0 2442.4H2059.5M419.5 2404.4H443.0M2083.0 2404.4H2059.5M419.5 2366.3H443.0M2083.0 2366.3H2059.5M419.5 2328.3H460.0M2083.0 2328.3H2042.5M419.5 2290.2H443.0M2083.0 2290.2H2059.5M419.5 2252.2H443.0M2083.0 2252.2H2059.5M419.5 2214.2H443.0M2083.0 2214.2H2059.5M419.5 2176.1H460.0M2083.0 2176.1H2042.5M419.5 2138.1H443.0M2083.0 2138.1H2059.5M419.5 2100.0H443.0M2083.0 2100.0H2059.5M419.5 2061.9H443.0M2083.0 2061.9H2059.5M419.5 2023.9H460.0M2083.0 2023.9H2042.5M419.5 1985.8H443.0M2083.0 1985.8H2059.5M419.5 1947.8H443.0M2083.0 1947.8H2059.5M419.5 1909.8H443.0M2083.0 1909.8H2059.5M419.5 1871.7H460.0M2083.0 1871.7H2042.5M419.5 1833.7H443.0M2083.0 1833.7H2059.5M419.5 1795.6H443.0M2083.0 1795.6H2059.5M419.5 1757.6H443.0M2083.0 1757.6H2059.5M419.5 1719.5H460.0M2083.0 1719.5H2042.5M419.5 1681.5H443.0M2083.0 1681.5H2059.5M419.5 1643.4H443.0M2083.0 1643.4H2059.5M419.5 1605.3H443.0M2083.0 1605.3H2059.5M419.5 1567.3H460.0M2083.0 1567.3H2042.5M419.5 1529.2H443.0M2083.0 1529.2H2059.5M419.5 1491.2H443.0M2083.0 1491.2H2059.5M419.5 1453.2H443.0M2083.0 1453.2H2059.5M419.5 1415.1H460.0M2083.0 1415.1H2042.5M419.5 1377.1H443.0M2083.0 1377.1H2059.5M419.5 1339.0H443.0M2083.0 1339.0H2059.5M419.5 1301.0H443.0M2083.0 1301.0H2059.5" stroke-width="4.7"/></g>
<path d="M653.5 2439.0V2305.0" stroke="#131313" stroke-width="6"/>
<path d="M653.5 2287.0 L673.0 2308.0 L634.0 2308.0Z" fill="#131313"/>
<path d="M826.5 2439.0V2222.0" stroke="#131313" stroke-width="6"/>
<path d="M826.5 2204.0 L846.0 2225.0 L807.0 2225.0Z" fill="#131313"/>
<path d="M1515.7 604.5H1689.3" stroke="#000" stroke-width="5.2"/>
<path d="M1515.7 696.0H1689.3" stroke="#0000ff" stroke-width="5.2"/>
<path d="M1515.7 788.0H1689.3" stroke="#ff0000" stroke-width="5.2"/>
<circle cx="1602.5" cy="606.5" r="14" fill="#000"/>
<path d="M1601 680 L1613.5 696 L1601 712 L1588.5 696Z" fill="#0000ff"/>
<rect x="1589.5" y="776" width="26.5" height="26.5" fill="#ff0000"/>
<g fill="#131313" stroke="#131313" stroke-width="0.9" stroke-linejoin="round">
<text x="332.4" y="163.5" font-family="'DejaVu Sans','Liberation Sans',sans-serif" font-size="50.50">50</text>
<text x="332.4" y="409.7" font-family="'DejaVu Sans','Liberation Sans',sans-serif" font-size="50.50">40</text>
<text x="332.4" y="658.2" font-family="'DejaVu Sans','Liberation Sans',sans-serif" font-size="50.50">30</text>
<text x="332.4" y="901.9" font-family="'DejaVu Sans','Liberation Sans',sans-serif" font-size="50.50">20</text>
<text x="332.4" y="1150.0" font-family="'DejaVu Sans','Liberation Sans',sans-serif" font-size="50.50">10</text>
<text x="364.5" y="2499.0" font-family="'DejaVu Sans','Liberation Sans',sans-serif" font-size="50.50">0</text>
<text x="365.5" y="2346.8" font-family="'DejaVu Sans','Liberation Sans',sans-serif" font-size="50.50">2</text>
<text x="363.5" y="2194.6" font-family="'DejaVu Sans','Liberation Sans',sans-serif" font-size="50.50">4</text>
<text x="364.5" y="2042.4" font-family="'DejaVu Sans','Liberation Sans',sans-serif" font-size="50.50">6</text>
<text x="364.5" y="1890.2" font-family="'DejaVu Sans','Liberation Sans',sans-serif" font-size="50.50">8</text>
<text x="332.4" y="1738.0" font-family="'DejaVu Sans','Liberation Sans',sans-serif" font-size="50.50">10</text>
<text x="333.4" y="1585.8" font-family="'DejaVu Sans','Liberation Sans',sans-serif" font-size="50.50">12</text>
<text x="331.4" y="1433.6" font-family="'DejaVu Sans','Liberation Sans',sans-serif" font-size="50.50">14</text>
<text x="332.4" y="1281.4" font-family="'DejaVu Sans','Liberation Sans',sans-serif" font-size="50.50">16</text>
<text x="403.5" y="2560.3" font-family="'DejaVu Sans','Liberation Sans',sans-serif" font-size="50.50">0</text>
<text x="595.4" y="2560.3" font-family="'DejaVu Sans','Liberation Sans',sans-serif" font-size="50.50">50</text>
<text x="786.2" y="2560.3" font-family="'DejaVu Sans','Liberation Sans',sans-serif" font-size="50.50">100</text>
<text x="994.2" y="2560.3" font-family="'DejaVu Sans','Liberation Sans',sans-serif" font-size="50.50">150</text>
<text x="1203.1" y="2560.3" font-family="'DejaVu Sans','Liberation Sans',sans-serif" font-size="50.50">200</text>
<text x="1411.1" y="2560.3" font-family="'DejaVu Sans','Liberation Sans',sans-serif" font-size="50.50">250</text>
<text x="1619.0" y="2560.3" font-family="'DejaVu Sans','Liberation Sans',sans-serif" font-size="50.50">300</text>
<text x="1826.9" y="2560.3" font-family="'DejaVu Sans','Liberation Sans',sans-serif" font-size="50.50">350</text>
<text x="2035.4" y="2560.3" font-family="'DejaVu Sans','Liberation Sans',sans-serif" font-size="50.50">400</text>
<text x="1725.3" y="632.3" font-family="'DejaVu Sans','Liberation Sans',sans-serif" font-size="67.00" textLength="189.4" lengthAdjust="spacingAndGlyphs">MagH</text>
<text x="1726.4" y="724.4" font-family="'DejaVu Sans','Liberation Sans',sans-serif" font-size="67.00" textLength="82.8" lengthAdjust="spacingAndGlyphs">S1</text>
<text x="1726.3" y="815.1" font-family="'DejaVu Sans','Liberation Sans',sans-serif" font-size="67.00" textLength="85.4" lengthAdjust="spacingAndGlyphs">S2</text>
<text x="12.7" y="89.8" font-family="'DejaVu Sans','Liberation Sans',sans-serif" font-size="74.40" textLength="76.0" lengthAdjust="spacingAndGlyphs">a)</text>
<text x="15.0" y="1342.6" font-family="'DejaVu Sans','Liberation Sans',sans-serif" font-size="74.40" textLength="73.4" lengthAdjust="spacingAndGlyphs">b)</text>
<text transform="translate(573.3,567.7) skewX(-22)" font-family="'DejaVu Sans Condensed','Liberation Sans',sans-serif" font-size="73.00" font-weight="bold" stroke-width="1.7" textLength="50.8" lengthAdjust="spacingAndGlyphs">H</text>
<text x="652.1" y="567.7" font-family="'DejaVu Sans Condensed','Liberation Sans',sans-serif" font-size="73.00" font-weight="bold" stroke-width="1.7" textLength="295.8" lengthAdjust="spacingAndGlyphs">= 1 kOe</text>
<text transform="translate(567.8,1534.0) skewX(-22)" font-family="'DejaVu Sans Condensed','Liberation Sans',sans-serif" font-size="73.00" font-weight="bold" stroke-width="1.7" textLength="53.1" lengthAdjust="spacingAndGlyphs">H</text>
<text x="647.2" y="1534.0" font-family="'DejaVu Sans Condensed','Liberation Sans',sans-serif" font-size="73.00" font-weight="bold" stroke-width="1.7" textLength="349.2" lengthAdjust="spacingAndGlyphs">= 100 Oe</text>
<text transform="translate(1181.6,2651.8) skewX(-22)" font-family="'DejaVu Sans Condensed','Liberation Sans',sans-serif" font-size="64.60" font-weight="bold" stroke-width="1.7" textLength="39.7" lengthAdjust="spacingAndGlyphs">T</text>
<text x="1243.5" y="2655.1" font-family="'DejaVu Sans Condensed','Liberation Sans',sans-serif" font-size="72.50" font-weight="bold" stroke-width="1.7" textLength="28.2" lengthAdjust="spacingAndGlyphs">[</text>
<text x="1267.4" y="2651.8" font-family="'DejaVu Sans Condensed','Liberation Sans',sans-serif" font-size="64.60" font-weight="bold" stroke-width="1.7" textLength="45.8" lengthAdjust="spacingAndGlyphs">K</text>
<text x="1316.4" y="2655.1" font-family="'DejaVu Sans Condensed','Liberation Sans',sans-serif" font-size="72.50" font-weight="bold" stroke-width="1.7" textLength="30.8" lengthAdjust="spacingAndGlyphs">]</text>
<g transform="translate(281.8,816.2) rotate(-90)">
<text transform="translate(-4.6,0.0) skewX(-22)" font-family="'DejaVu Sans Condensed','Liberation Sans',sans-serif" font-size="65.00" font-weight="bold" stroke-width="1.7" textLength="59.4" lengthAdjust="spacingAndGlyphs">M</text>
<text x="72.0" y="3.3" font-family="'DejaVu Sans Condensed','Liberation Sans',sans-serif" font-size="72.50" font-weight="bold" stroke-width="1.7" textLength="31.2" lengthAdjust="spacingAndGlyphs">[</text>
<text x="100.6" y="0.0" font-family="'DejaVu Sans Condensed','Liberation Sans',sans-serif" font-size="65.00" font-weight="bold" stroke-width="1.7" textLength="195.9" lengthAdjust="spacingAndGlyphs">emu g</text>
<text x="295.5" y="-28.0" font-family="'DejaVu Sans Condensed','Liberation Sans',sans-serif" font-size="39.00" font-weight="bold" stroke-width="1.7" textLength="39.4" lengthAdjust="spacingAndGlyphs">-1</text>
<text x="343.9" y="3.3" font-family="'DejaVu Sans Condensed','Liberation Sans',sans-serif" font-size="72.50" font-weight="bold" stroke-width="1.7" textLength="30.7" lengthAdjust="spacingAndGlyphs">]</text>
</g>
<g transform="translate(281.8,2052.7) rotate(-90)">
<text transform="translate(-4.6,0.0) skewX(-22)" font-family="'DejaVu Sans Condensed','Liberation Sans',sans-serif" font-size="65.00" font-weight="bold" stroke-width="1.7" textLength="59.4" lengthAdjust="spacingAndGlyphs">M</text>
<text x="72.0" y="3.3" font-family="'DejaVu Sans Condensed','Liberation Sans',sans-serif" font-size="72.50" font-weight="bold" stroke-width="1.7" textLength="31.2" lengthAdjust="spacingAndGlyphs">[</text>
<text x="100.6" y="0.0" font-family="'DejaVu Sans Condensed','Liberation Sans',sans-serif" font-size="65.00" font-weight="bold" stroke-width="1.7" textLength="195.9" lengthAdjust="spacingAndGlyphs">emu g</text>
<text x="295.5" y="-28.0" font-family="'DejaVu Sans Condensed','Liberation Sans',sans-serif" font-size="39.00" font-weight="bold" stroke-width="1.7" textLength="39.4" lengthAdjust="spacingAndGlyphs">-1</text>
<text x="343.9" y="3.3" font-family="'DejaVu Sans Condensed','Liberation Sans',sans-serif" font-size="72.50" font-weight="bold" stroke-width="1.7" textLength="30.7" lengthAdjust="spacingAndGlyphs">]</text>
</g>
</g>
</g>
</svg></body></html>
